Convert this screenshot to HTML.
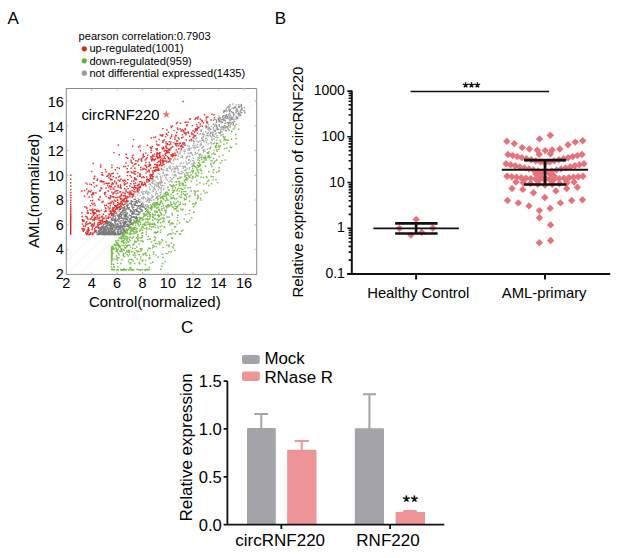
<!DOCTYPE html>
<html><head><meta charset="utf-8"><style>
html,body{margin:0;padding:0;background:#fff;width:633px;height:558px;overflow:hidden;position:relative}
</style></head><body>
<svg width="633" height="558" viewBox="0 0 633 558" style="position:absolute;left:0;top:0"><g style="font-family:'Liberation Sans',sans-serif" fill="#000"><text x="7.6" y="23.8" font-size="17">A</text><text x="274.8" y="23.8" font-size="17">B</text><text x="181" y="332.7" font-size="17">C</text></g><g style="font-family:'Liberation Sans',sans-serif" font-size="11.1" fill="#000"><text x="78.6" y="39.6">pearson correlation:0.7903</text><text x="89.4" y="52.3">up-regulated(1001)</text><text x="89.4" y="64.5">down-regulated(959)</text><text x="89.4" y="76.8">not differential expressed(1435)</text></g><circle cx="84.3" cy="48.8" r="2.6" fill="#d82a1c"/><circle cx="84.3" cy="60.8" r="2.6" fill="#66b034"/><circle cx="84.3" cy="73.2" r="2.6" fill="#9a9a9a"/><rect x="66.3" y="88.5" width="190.4" height="185.9" fill="none" stroke="#8a8a8a" stroke-width="1"/><line x1="79.0" y1="274.4" x2="256.7" y2="100.9" stroke="#ececec" stroke-width="0.7"/><line x1="66.3" y1="274.4" x2="256.7" y2="88.5" stroke="#ececec" stroke-width="0.7"/><line x1="65.0" y1="263.2" x2="245.3" y2="87.3" stroke="#ececec" stroke-width="0.7"/><path fill="#111" fill-opacity="0.55" d="M136.6 217.1h1.35v1.35h-1.35zM114.8 227.6h1.35v1.35h-1.35zM114.3 229.3h1.35v1.35h-1.35zM139.0 211.4h1.35v1.35h-1.35zM108.4 221.0h1.35v1.35h-1.35zM113.1 226.2h1.35v1.35h-1.35zM117.9 233.4h1.35v1.35h-1.35zM121.0 225.3h1.35v1.35h-1.35zM102.2 233.1h1.35v1.35h-1.35zM113.0 233.6h1.35v1.35h-1.35zM133.0 212.8h1.35v1.35h-1.35zM109.2 233.9h1.35v1.35h-1.35zM136.2 219.5h1.35v1.35h-1.35zM138.5 207.4h1.35v1.35h-1.35zM122.9 224.7h1.35v1.35h-1.35zM117.0 215.1h1.35v1.35h-1.35zM117.2 220.0h1.35v1.35h-1.35zM112.6 219.7h1.35v1.35h-1.35zM111.5 234.0h1.35v1.35h-1.35zM120.4 231.5h1.35v1.35h-1.35zM102.6 233.6h1.35v1.35h-1.35zM109.8 223.4h1.35v1.35h-1.35zM114.0 221.6h1.35v1.35h-1.35zM107.8 222.6h1.35v1.35h-1.35zM104.8 228.2h1.35v1.35h-1.35zM109.5 224.9h1.35v1.35h-1.35zM103.5 227.4h1.35v1.35h-1.35zM112.2 231.0h1.35v1.35h-1.35zM100.1 228.6h1.35v1.35h-1.35zM120.6 213.8h1.35v1.35h-1.35zM123.1 221.8h1.35v1.35h-1.35zM123.8 224.7h1.35v1.35h-1.35zM108.1 233.6h1.35v1.35h-1.35zM120.3 220.0h1.35v1.35h-1.35zM134.4 209.3h1.35v1.35h-1.35zM101.4 233.8h1.35v1.35h-1.35zM100.0 233.5h1.35v1.35h-1.35zM115.9 233.6h1.35v1.35h-1.35zM100.5 233.6h1.35v1.35h-1.35zM117.1 229.6h1.35v1.35h-1.35zM100.7 231.7h1.35v1.35h-1.35zM99.5 233.5h1.35v1.35h-1.35zM112.4 231.4h1.35v1.35h-1.35zM135.9 200.7h1.35v1.35h-1.35zM117.0 231.6h1.35v1.35h-1.35zM114.9 227.0h1.35v1.35h-1.35zM119.2 230.4h1.35v1.35h-1.35zM107.5 222.4h1.35v1.35h-1.35zM123.0 227.6h1.35v1.35h-1.35zM113.8 218.9h1.35v1.35h-1.35zM131.1 201.4h1.35v1.35h-1.35zM142.2 205.1h1.35v1.35h-1.35zM105.9 233.4h1.35v1.35h-1.35zM114.8 233.3h1.35v1.35h-1.35zM130.4 210.2h1.35v1.35h-1.35zM111.8 222.9h1.35v1.35h-1.35zM103.2 233.7h1.35v1.35h-1.35zM128.8 220.5h1.35v1.35h-1.35zM110.3 233.8h1.35v1.35h-1.35zM105.4 230.2h1.35v1.35h-1.35zM125.5 219.0h1.35v1.35h-1.35zM111.5 233.1h1.35v1.35h-1.35zM137.4 205.2h1.35v1.35h-1.35zM109.9 229.2h1.35v1.35h-1.35zM111.4 217.5h1.35v1.35h-1.35zM101.4 227.8h1.35v1.35h-1.35zM105.8 224.7h1.35v1.35h-1.35zM104.2 228.5h1.35v1.35h-1.35zM109.2 233.6h1.35v1.35h-1.35zM122.0 233.5h1.35v1.35h-1.35zM113.9 234.0h1.35v1.35h-1.35zM126.8 212.5h1.35v1.35h-1.35zM114.7 231.9h1.35v1.35h-1.35zM128.8 218.1h1.35v1.35h-1.35zM111.2 231.5h1.35v1.35h-1.35zM141.0 203.5h1.35v1.35h-1.35zM109.3 226.6h1.35v1.35h-1.35zM133.3 210.3h1.35v1.35h-1.35zM102.7 233.8h1.35v1.35h-1.35zM136.2 216.9h1.35v1.35h-1.35zM114.9 233.2h1.35v1.35h-1.35zM107.9 233.5h1.35v1.35h-1.35zM135.9 217.6h1.35v1.35h-1.35zM109.8 231.8h1.35v1.35h-1.35zM136.6 202.1h1.35v1.35h-1.35zM139.7 205.1h1.35v1.35h-1.35zM130.7 200.1h1.35v1.35h-1.35zM107.9 233.5h1.35v1.35h-1.35zM111.3 229.5h1.35v1.35h-1.35zM117.1 222.8h1.35v1.35h-1.35zM128.6 207.1h1.35v1.35h-1.35zM99.9 228.0h1.35v1.35h-1.35zM118.3 220.7h1.35v1.35h-1.35zM108.4 221.4h1.35v1.35h-1.35zM114.2 224.5h1.35v1.35h-1.35zM108.8 229.8h1.35v1.35h-1.35zM134.1 198.9h1.35v1.35h-1.35zM118.6 226.6h1.35v1.35h-1.35zM122.1 232.3h1.35v1.35h-1.35zM104.4 233.3h1.35v1.35h-1.35zM99.4 227.4h1.35v1.35h-1.35zM101.6 233.8h1.35v1.35h-1.35zM100.1 228.6h1.35v1.35h-1.35zM132.7 209.1h1.35v1.35h-1.35zM110.9 225.9h1.35v1.35h-1.35zM120.0 212.7h1.35v1.35h-1.35zM113.3 233.4h1.35v1.35h-1.35zM122.7 225.7h1.35v1.35h-1.35zM123.9 212.0h1.35v1.35h-1.35zM117.2 219.6h1.35v1.35h-1.35zM138.5 211.8h1.35v1.35h-1.35zM108.4 233.8h1.35v1.35h-1.35zM110.2 226.0h1.35v1.35h-1.35zM136.6 202.3h1.35v1.35h-1.35zM129.6 219.5h1.35v1.35h-1.35zM118.7 213.9h1.35v1.35h-1.35zM108.8 233.4h1.35v1.35h-1.35zM117.2 223.9h1.35v1.35h-1.35zM139.4 211.3h1.35v1.35h-1.35zM105.8 233.5h1.35v1.35h-1.35zM132.7 219.4h1.35v1.35h-1.35zM121.3 225.3h1.35v1.35h-1.35zM120.0 214.0h1.35v1.35h-1.35zM106.9 227.0h1.35v1.35h-1.35zM126.6 206.1h1.35v1.35h-1.35zM108.3 233.8h1.35v1.35h-1.35zM107.8 233.3h1.35v1.35h-1.35zM106.8 233.6h1.35v1.35h-1.35zM108.8 233.3h1.35v1.35h-1.35zM124.7 230.8h1.35v1.35h-1.35zM135.2 201.8h1.35v1.35h-1.35zM109.9 233.6h1.35v1.35h-1.35zM114.5 219.9h1.35v1.35h-1.35zM114.1 233.3h1.35v1.35h-1.35zM110.3 228.6h1.35v1.35h-1.35zM133.8 220.6h1.35v1.35h-1.35zM108.3 233.9h1.35v1.35h-1.35zM136.5 214.1h1.35v1.35h-1.35zM111.3 233.6h1.35v1.35h-1.35zM111.1 232.3h1.35v1.35h-1.35zM113.2 233.4h1.35v1.35h-1.35zM129.2 220.8h1.35v1.35h-1.35zM103.0 233.2h1.35v1.35h-1.35zM124.1 222.0h1.35v1.35h-1.35zM111.1 218.1h1.35v1.35h-1.35zM135.7 220.4h1.35v1.35h-1.35zM136.4 221.2h1.35v1.35h-1.35zM109.2 233.7h1.35v1.35h-1.35zM113.0 225.9h1.35v1.35h-1.35zM126.9 204.8h1.35v1.35h-1.35zM109.0 233.7h1.35v1.35h-1.35zM117.0 218.5h1.35v1.35h-1.35zM103.1 229.9h1.35v1.35h-1.35zM118.0 216.9h1.35v1.35h-1.35zM122.4 219.5h1.35v1.35h-1.35zM102.7 232.9h1.35v1.35h-1.35zM106.4 228.6h1.35v1.35h-1.35zM144.6 208.0h1.35v1.35h-1.35zM139.9 205.7h1.35v1.35h-1.35zM132.2 207.5h1.35v1.35h-1.35zM124.2 226.2h1.35v1.35h-1.35zM98.3 233.9h1.35v1.35h-1.35zM127.2 204.4h1.35v1.35h-1.35zM97.9 229.7h1.35v1.35h-1.35zM117.2 231.4h1.35v1.35h-1.35zM132.7 213.4h1.35v1.35h-1.35zM98.3 231.8h1.35v1.35h-1.35zM116.6 214.6h1.35v1.35h-1.35zM137.3 214.2h1.35v1.35h-1.35zM106.4 233.3h1.35v1.35h-1.35zM110.5 233.7h1.35v1.35h-1.35zM101.0 230.9h1.35v1.35h-1.35zM125.7 223.7h1.35v1.35h-1.35zM121.9 210.0h1.35v1.35h-1.35zM117.6 229.0h1.35v1.35h-1.35zM117.1 225.8h1.35v1.35h-1.35zM130.3 219.2h1.35v1.35h-1.35zM106.3 232.3h1.35v1.35h-1.35zM119.9 211.8h1.35v1.35h-1.35zM108.6 234.1h1.35v1.35h-1.35zM123.5 207.3h1.35v1.35h-1.35zM121.7 228.3h1.35v1.35h-1.35zM103.7 233.5h1.35v1.35h-1.35zM140.6 203.9h1.35v1.35h-1.35zM122.3 207.5h1.35v1.35h-1.35zM107.8 230.4h1.35v1.35h-1.35zM139.1 204.9h1.35v1.35h-1.35zM115.3 233.8h1.35v1.35h-1.35zM127.3 216.8h1.35v1.35h-1.35zM121.0 217.0h1.35v1.35h-1.35zM95.2 230.1h1.35v1.35h-1.35zM103.6 227.8h1.35v1.35h-1.35zM108.9 223.6h1.35v1.35h-1.35zM123.9 208.4h1.35v1.35h-1.35zM112.0 228.1h1.35v1.35h-1.35zM127.3 204.4h1.35v1.35h-1.35zM132.1 204.4h1.35v1.35h-1.35zM102.1 231.9h1.35v1.35h-1.35zM103.8 231.1h1.35v1.35h-1.35zM112.6 223.8h1.35v1.35h-1.35zM114.6 232.1h1.35v1.35h-1.35zM138.1 211.8h1.35v1.35h-1.35zM120.6 215.9h1.35v1.35h-1.35zM136.0 200.1h1.35v1.35h-1.35zM111.3 219.7h1.35v1.35h-1.35zM132.9 206.6h1.35v1.35h-1.35zM119.9 222.0h1.35v1.35h-1.35zM135.8 213.4h1.35v1.35h-1.35zM107.6 234.0h1.35v1.35h-1.35zM104.3 232.2h1.35v1.35h-1.35zM98.2 231.2h1.35v1.35h-1.35zM102.7 233.8h1.35v1.35h-1.35zM138.0 213.7h1.35v1.35h-1.35zM130.7 217.0h1.35v1.35h-1.35zM119.6 221.7h1.35v1.35h-1.35zM97.9 230.4h1.35v1.35h-1.35zM100.4 232.9h1.35v1.35h-1.35zM110.1 234.0h1.35v1.35h-1.35zM122.8 230.4h1.35v1.35h-1.35zM100.6 233.5h1.35v1.35h-1.35zM105.4 232.7h1.35v1.35h-1.35zM105.0 233.5h1.35v1.35h-1.35zM105.0 229.0h1.35v1.35h-1.35zM99.5 233.5h1.35v1.35h-1.35zM115.4 220.6h1.35v1.35h-1.35zM115.3 223.6h1.35v1.35h-1.35zM114.2 222.2h1.35v1.35h-1.35zM124.2 210.2h1.35v1.35h-1.35zM133.2 212.1h1.35v1.35h-1.35zM139.6 207.2h1.35v1.35h-1.35zM131.2 204.6h1.35v1.35h-1.35zM110.6 222.2h1.35v1.35h-1.35zM114.2 215.3h1.35v1.35h-1.35zM110.6 233.2h1.35v1.35h-1.35zM108.7 233.5h1.35v1.35h-1.35zM100.8 227.6h1.35v1.35h-1.35zM124.2 207.5h1.35v1.35h-1.35zM103.1 227.0h1.35v1.35h-1.35zM109.8 234.0h1.35v1.35h-1.35zM136.0 210.7h1.35v1.35h-1.35zM120.0 228.4h1.35v1.35h-1.35zM106.2 234.0h1.35v1.35h-1.35zM105.6 233.3h1.35v1.35h-1.35zM100.3 227.8h1.35v1.35h-1.35zM108.8 233.2h1.35v1.35h-1.35zM130.7 203.5h1.35v1.35h-1.35zM98.1 230.7h1.35v1.35h-1.35zM135.7 220.0h1.35v1.35h-1.35zM110.1 223.9h1.35v1.35h-1.35zM123.8 231.2h1.35v1.35h-1.35zM131.2 205.6h1.35v1.35h-1.35zM128.8 226.9h1.35v1.35h-1.35zM113.7 230.1h1.35v1.35h-1.35zM117.5 231.5h1.35v1.35h-1.35zM120.3 225.4h1.35v1.35h-1.35zM130.6 200.7h1.35v1.35h-1.35zM118.4 228.6h1.35v1.35h-1.35zM117.4 223.8h1.35v1.35h-1.35zM111.1 233.7h1.35v1.35h-1.35zM103.3 229.8h1.35v1.35h-1.35zM107.1 225.1h1.35v1.35h-1.35zM104.6 231.6h1.35v1.35h-1.35zM101.5 231.3h1.35v1.35h-1.35zM129.5 208.9h1.35v1.35h-1.35zM109.3 233.6h1.35v1.35h-1.35zM109.7 225.5h1.35v1.35h-1.35zM120.5 223.3h1.35v1.35h-1.35zM126.0 219.0h1.35v1.35h-1.35zM133.5 216.7h1.35v1.35h-1.35zM120.8 226.8h1.35v1.35h-1.35zM115.7 211.9h1.35v1.35h-1.35zM105.7 229.9h1.35v1.35h-1.35zM103.3 233.7h1.35v1.35h-1.35zM114.2 218.3h1.35v1.35h-1.35zM111.4 224.1h1.35v1.35h-1.35zM122.4 207.0h1.35v1.35h-1.35zM120.9 214.7h1.35v1.35h-1.35zM119.1 226.3h1.35v1.35h-1.35zM100.1 229.6h1.35v1.35h-1.35zM124.7 223.2h1.35v1.35h-1.35zM126.8 223.7h1.35v1.35h-1.35zM106.2 233.8h1.35v1.35h-1.35zM123.9 206.0h1.35v1.35h-1.35zM96.8 233.3h1.35v1.35h-1.35zM115.9 228.3h1.35v1.35h-1.35zM108.0 233.7h1.35v1.35h-1.35zM110.4 233.6h1.35v1.35h-1.35zM141.3 206.2h1.35v1.35h-1.35zM107.7 228.6h1.35v1.35h-1.35zM111.2 230.6h1.35v1.35h-1.35zM134.1 204.1h1.35v1.35h-1.35zM115.0 217.2h1.35v1.35h-1.35zM110.6 227.4h1.35v1.35h-1.35zM118.3 214.4h1.35v1.35h-1.35zM118.6 228.4h1.35v1.35h-1.35zM123.9 215.8h1.35v1.35h-1.35zM105.2 233.7h1.35v1.35h-1.35zM105.4 226.3h1.35v1.35h-1.35zM134.5 213.5h1.35v1.35h-1.35zM109.2 234.0h1.35v1.35h-1.35zM104.6 227.7h1.35v1.35h-1.35zM137.8 205.7h1.35v1.35h-1.35zM114.2 224.7h1.35v1.35h-1.35zM117.0 224.4h1.35v1.35h-1.35zM102.9 233.8h1.35v1.35h-1.35zM97.2 233.6h1.35v1.35h-1.35zM114.3 233.6h1.35v1.35h-1.35zM138.4 213.5h1.35v1.35h-1.35zM125.2 220.8h1.35v1.35h-1.35zM139.9 208.8h1.35v1.35h-1.35zM105.1 226.3h1.35v1.35h-1.35zM116.4 219.8h1.35v1.35h-1.35zM144.8 208.7h1.35v1.35h-1.35zM108.1 230.6h1.35v1.35h-1.35zM117.6 231.6h1.35v1.35h-1.35zM103.9 226.3h1.35v1.35h-1.35zM134.5 203.2h1.35v1.35h-1.35zM115.1 232.9h1.35v1.35h-1.35zM104.9 233.9h1.35v1.35h-1.35zM106.1 222.6h1.35v1.35h-1.35zM127.5 224.4h1.35v1.35h-1.35zM103.6 231.1h1.35v1.35h-1.35zM101.2 229.6h1.35v1.35h-1.35zM129.5 219.4h1.35v1.35h-1.35zM110.0 233.7h1.35v1.35h-1.35zM119.7 223.1h1.35v1.35h-1.35zM127.0 224.0h1.35v1.35h-1.35zM135.9 204.9h1.35v1.35h-1.35zM108.2 224.6h1.35v1.35h-1.35zM134.0 204.7h1.35v1.35h-1.35zM119.7 233.6h1.35v1.35h-1.35zM142.2 206.3h1.35v1.35h-1.35zM134.7 198.8h1.35v1.35h-1.35zM126.2 205.4h1.35v1.35h-1.35zM127.3 224.8h1.35v1.35h-1.35zM105.5 233.5h1.35v1.35h-1.35zM98.0 233.2h1.35v1.35h-1.35zM129.4 222.5h1.35v1.35h-1.35zM110.6 218.8h1.35v1.35h-1.35zM120.8 229.7h1.35v1.35h-1.35zM105.5 233.6h1.35v1.35h-1.35zM133.3 216.4h1.35v1.35h-1.35zM102.3 226.0h1.35v1.35h-1.35zM110.7 233.9h1.35v1.35h-1.35zM100.1 233.7h1.35v1.35h-1.35zM103.6 232.4h1.35v1.35h-1.35zM132.2 211.8h1.35v1.35h-1.35zM116.5 233.7h1.35v1.35h-1.35zM126.3 208.5h1.35v1.35h-1.35zM126.5 207.5h1.35v1.35h-1.35zM135.6 209.2h1.35v1.35h-1.35zM117.8 234.1h1.35v1.35h-1.35zM113.8 233.3h1.35v1.35h-1.35zM135.5 218.0h1.35v1.35h-1.35zM113.6 224.7h1.35v1.35h-1.35zM125.4 208.7h1.35v1.35h-1.35zM107.2 233.1h1.35v1.35h-1.35zM123.5 214.6h1.35v1.35h-1.35zM123.5 220.9h1.35v1.35h-1.35zM116.9 231.7h1.35v1.35h-1.35zM138.6 205.1h1.35v1.35h-1.35zM117.2 224.6h1.35v1.35h-1.35zM97.5 231.5h1.35v1.35h-1.35zM115.2 223.6h1.35v1.35h-1.35zM107.3 231.7h1.35v1.35h-1.35zM116.0 233.7h1.35v1.35h-1.35zM102.3 230.6h1.35v1.35h-1.35zM99.3 233.2h1.35v1.35h-1.35zM126.6 229.9h1.35v1.35h-1.35zM105.0 225.7h1.35v1.35h-1.35zM118.4 217.6h1.35v1.35h-1.35zM123.7 223.3h1.35v1.35h-1.35zM112.4 233.2h1.35v1.35h-1.35zM129.9 209.7h1.35v1.35h-1.35zM124.4 213.7h1.35v1.35h-1.35zM129.2 222.2h1.35v1.35h-1.35zM118.7 218.4h1.35v1.35h-1.35zM114.8 218.4h1.35v1.35h-1.35zM107.0 233.2h1.35v1.35h-1.35zM107.6 229.1h1.35v1.35h-1.35zM121.1 217.6h1.35v1.35h-1.35zM137.2 210.4h1.35v1.35h-1.35zM117.3 232.4h1.35v1.35h-1.35zM98.2 232.5h1.35v1.35h-1.35zM130.1 218.2h1.35v1.35h-1.35zM100.3 228.8h1.35v1.35h-1.35zM136.1 208.6h1.35v1.35h-1.35zM98.8 233.6h1.35v1.35h-1.35zM106.9 231.3h1.35v1.35h-1.35zM120.5 207.8h1.35v1.35h-1.35zM132.3 222.6h1.35v1.35h-1.35zM106.0 221.7h1.35v1.35h-1.35zM126.8 218.5h1.35v1.35h-1.35zM99.2 229.3h1.35v1.35h-1.35zM114.2 229.1h1.35v1.35h-1.35zM121.0 211.4h1.35v1.35h-1.35zM128.1 208.5h1.35v1.35h-1.35zM99.5 228.8h1.35v1.35h-1.35zM108.7 228.0h1.35v1.35h-1.35zM117.1 218.5h1.35v1.35h-1.35zM106.0 231.9h1.35v1.35h-1.35zM131.6 210.9h1.35v1.35h-1.35zM120.8 232.1h1.35v1.35h-1.35zM113.8 233.4h1.35v1.35h-1.35zM103.9 232.8h1.35v1.35h-1.35zM128.7 202.7h1.35v1.35h-1.35zM116.6 225.5h1.35v1.35h-1.35zM101.6 227.6h1.35v1.35h-1.35zM117.4 231.1h1.35v1.35h-1.35zM129.9 221.8h1.35v1.35h-1.35zM122.0 221.7h1.35v1.35h-1.35zM106.0 225.4h1.35v1.35h-1.35zM125.7 214.5h1.35v1.35h-1.35zM122.5 219.6h1.35v1.35h-1.35zM113.3 229.8h1.35v1.35h-1.35zM119.8 227.0h1.35v1.35h-1.35zM100.9 232.6h1.35v1.35h-1.35zM117.6 233.3h1.35v1.35h-1.35zM115.7 234.0h1.35v1.35h-1.35zM125.9 221.6h1.35v1.35h-1.35zM117.8 233.7h1.35v1.35h-1.35zM122.6 223.1h1.35v1.35h-1.35zM104.1 234.0h1.35v1.35h-1.35zM115.3 233.3h1.35v1.35h-1.35zM119.4 232.8h1.35v1.35h-1.35zM123.5 225.2h1.35v1.35h-1.35zM119.0 215.2h1.35v1.35h-1.35zM98.0 227.7h1.35v1.35h-1.35zM134.5 217.8h1.35v1.35h-1.35zM98.6 230.5h1.35v1.35h-1.35zM105.4 232.9h1.35v1.35h-1.35zM99.3 231.3h1.35v1.35h-1.35zM115.0 233.6h1.35v1.35h-1.35zM114.5 212.9h1.35v1.35h-1.35zM126.7 225.6h1.35v1.35h-1.35zM109.6 232.0h1.35v1.35h-1.35zM102.3 233.7h1.35v1.35h-1.35zM118.0 220.6h1.35v1.35h-1.35zM132.0 212.4h1.35v1.35h-1.35zM131.9 207.5h1.35v1.35h-1.35zM113.7 231.8h1.35v1.35h-1.35zM100.7 233.5h1.35v1.35h-1.35zM122.3 211.3h1.35v1.35h-1.35zM104.3 229.1h1.35v1.35h-1.35zM104.8 225.6h1.35v1.35h-1.35zM124.5 220.5h1.35v1.35h-1.35zM135.6 216.0h1.35v1.35h-1.35zM101.9 233.3h1.35v1.35h-1.35zM127.4 220.6h1.35v1.35h-1.35zM103.9 230.2h1.35v1.35h-1.35zM120.1 233.7h1.35v1.35h-1.35zM97.9 231.9h1.35v1.35h-1.35zM123.5 218.1h1.35v1.35h-1.35zM133.3 216.1h1.35v1.35h-1.35zM140.6 204.3h1.35v1.35h-1.35zM121.6 226.7h1.35v1.35h-1.35zM109.9 232.1h1.35v1.35h-1.35zM127.8 200.5h1.35v1.35h-1.35zM124.9 215.8h1.35v1.35h-1.35zM138.1 205.1h1.35v1.35h-1.35zM103.0 233.4h1.35v1.35h-1.35zM106.4 224.7h1.35v1.35h-1.35zM119.3 209.0h1.35v1.35h-1.35zM96.5 233.9h1.35v1.35h-1.35zM103.7 226.4h1.35v1.35h-1.35zM108.8 222.0h1.35v1.35h-1.35zM118.4 210.6h1.35v1.35h-1.35zM124.7 218.1h1.35v1.35h-1.35zM114.8 219.9h1.35v1.35h-1.35zM120.2 230.7h1.35v1.35h-1.35zM105.1 233.5h1.35v1.35h-1.35zM126.9 206.8h1.35v1.35h-1.35zM105.1 226.7h1.35v1.35h-1.35zM128.5 225.3h1.35v1.35h-1.35zM119.4 225.5h1.35v1.35h-1.35zM123.2 209.8h1.35v1.35h-1.35zM126.3 202.4h1.35v1.35h-1.35zM126.3 212.5h1.35v1.35h-1.35zM125.2 210.5h1.35v1.35h-1.35zM111.6 233.4h1.35v1.35h-1.35zM102.7 233.4h1.35v1.35h-1.35zM127.4 223.5h1.35v1.35h-1.35zM125.1 214.4h1.35v1.35h-1.35zM107.8 228.7h1.35v1.35h-1.35zM112.1 231.6h1.35v1.35h-1.35zM136.7 213.7h1.35v1.35h-1.35zM102.4 231.8h1.35v1.35h-1.35zM121.8 206.7h1.35v1.35h-1.35zM124.0 221.6h1.35v1.35h-1.35zM108.2 227.8h1.35v1.35h-1.35zM98.5 231.1h1.35v1.35h-1.35zM127.8 207.4h1.35v1.35h-1.35zM106.2 221.2h1.35v1.35h-1.35zM126.3 213.4h1.35v1.35h-1.35zM130.0 215.1h1.35v1.35h-1.35zM105.7 229.7h1.35v1.35h-1.35zM112.5 232.3h1.35v1.35h-1.35zM117.7 231.9h1.35v1.35h-1.35zM118.5 227.9h1.35v1.35h-1.35zM115.1 217.5h1.35v1.35h-1.35zM111.0 233.1h1.35v1.35h-1.35zM135.2 204.7h1.35v1.35h-1.35zM102.2 233.6h1.35v1.35h-1.35zM129.4 223.9h1.35v1.35h-1.35zM112.1 233.5h1.35v1.35h-1.35zM110.2 225.5h1.35v1.35h-1.35zM109.5 227.2h1.35v1.35h-1.35zM111.7 227.0h1.35v1.35h-1.35zM104.5 223.1h1.35v1.35h-1.35zM119.8 216.1h1.35v1.35h-1.35zM135.2 209.1h1.35v1.35h-1.35zM100.9 232.6h1.35v1.35h-1.35zM141.1 208.7h1.35v1.35h-1.35zM124.9 220.7h1.35v1.35h-1.35zM131.6 213.7h1.35v1.35h-1.35zM119.0 234.0h1.35v1.35h-1.35zM105.2 234.0h1.35v1.35h-1.35zM118.1 226.1h1.35v1.35h-1.35zM116.9 226.8h1.35v1.35h-1.35zM110.4 225.1h1.35v1.35h-1.35zM102.1 225.4h1.35v1.35h-1.35zM118.7 213.2h1.35v1.35h-1.35zM109.1 233.4h1.35v1.35h-1.35zM97.9 233.2h1.35v1.35h-1.35zM100.6 233.3h1.35v1.35h-1.35zM103.8 234.0h1.35v1.35h-1.35zM132.2 200.8h1.35v1.35h-1.35zM101.5 233.8h1.35v1.35h-1.35zM110.3 228.8h1.35v1.35h-1.35zM105.1 227.3h1.35v1.35h-1.35zM129.8 220.5h1.35v1.35h-1.35zM114.5 215.2h1.35v1.35h-1.35zM126.7 218.8h1.35v1.35h-1.35zM114.2 220.2h1.35v1.35h-1.35zM118.7 234.0h1.35v1.35h-1.35zM100.8 226.8h1.35v1.35h-1.35zM118.4 215.9h1.35v1.35h-1.35zM119.6 225.1h1.35v1.35h-1.35zM116.1 212.9h1.35v1.35h-1.35zM141.8 210.1h1.35v1.35h-1.35zM100.6 232.5h1.35v1.35h-1.35zM122.4 217.7h1.35v1.35h-1.35zM133.3 203.2h1.35v1.35h-1.35zM137.7 200.5h1.35v1.35h-1.35zM111.1 222.8h1.35v1.35h-1.35zM119.7 232.5h1.35v1.35h-1.35zM112.6 225.3h1.35v1.35h-1.35zM110.1 221.2h1.35v1.35h-1.35zM99.3 226.7h1.35v1.35h-1.35zM136.6 217.3h1.35v1.35h-1.35zM105.1 232.5h1.35v1.35h-1.35zM112.5 217.1h1.35v1.35h-1.35zM120.5 231.2h1.35v1.35h-1.35zM122.2 233.0h1.35v1.35h-1.35zM136.7 207.2h1.35v1.35h-1.35zM123.5 216.1h1.35v1.35h-1.35zM112.3 231.0h1.35v1.35h-1.35zM123.2 224.9h1.35v1.35h-1.35zM126.6 204.9h1.35v1.35h-1.35zM99.6 233.5h1.35v1.35h-1.35zM134.3 201.0h1.35v1.35h-1.35zM131.2 206.1h1.35v1.35h-1.35zM130.7 223.6h1.35v1.35h-1.35zM131.0 216.3h1.35v1.35h-1.35zM109.5 233.8h1.35v1.35h-1.35zM134.0 210.9h1.35v1.35h-1.35zM120.8 226.2h1.35v1.35h-1.35zM115.6 223.2h1.35v1.35h-1.35zM110.8 214.9h1.35v1.35h-1.35zM130.2 217.5h1.35v1.35h-1.35zM110.5 233.9h1.35v1.35h-1.35zM105.2 233.5h1.35v1.35h-1.35zM103.2 233.6h1.35v1.35h-1.35zM122.1 213.4h1.35v1.35h-1.35zM125.1 216.1h1.35v1.35h-1.35zM132.0 216.3h1.35v1.35h-1.35zM122.3 208.4h1.35v1.35h-1.35zM125.5 221.9h1.35v1.35h-1.35zM102.4 230.8h1.35v1.35h-1.35zM110.5 228.5h1.35v1.35h-1.35zM105.0 233.1h1.35v1.35h-1.35zM138.5 208.0h1.35v1.35h-1.35zM103.9 230.4h1.35v1.35h-1.35zM114.7 232.0h1.35v1.35h-1.35zM110.5 233.6h1.35v1.35h-1.35zM110.2 233.5h1.35v1.35h-1.35zM119.3 222.2h1.35v1.35h-1.35zM127.3 225.9h1.35v1.35h-1.35zM132.5 213.5h1.35v1.35h-1.35zM103.5 227.1h1.35v1.35h-1.35zM124.6 215.0h1.35v1.35h-1.35zM113.2 219.3h1.35v1.35h-1.35zM115.8 226.6h1.35v1.35h-1.35zM118.3 215.2h1.35v1.35h-1.35zM110.8 234.0h1.35v1.35h-1.35zM114.0 233.6h1.35v1.35h-1.35zM105.0 233.2h1.35v1.35h-1.35zM99.7 233.5h1.35v1.35h-1.35zM126.6 225.4h1.35v1.35h-1.35zM100.8 230.7h1.35v1.35h-1.35zM134.7 216.7h1.35v1.35h-1.35zM123.0 224.3h1.35v1.35h-1.35zM107.2 224.4h1.35v1.35h-1.35zM130.7 203.0h1.35v1.35h-1.35zM114.7 219.5h1.35v1.35h-1.35zM121.2 211.3h1.35v1.35h-1.35zM103.4 227.7h1.35v1.35h-1.35zM138.7 201.5h1.35v1.35h-1.35zM129.8 218.7h1.35v1.35h-1.35zM114.9 234.1h1.35v1.35h-1.35zM108.3 233.1h1.35v1.35h-1.35zM126.3 215.4h1.35v1.35h-1.35zM121.4 231.7h1.35v1.35h-1.35zM125.5 217.6h1.35v1.35h-1.35zM103.4 233.7h1.35v1.35h-1.35zM105.1 223.4h1.35v1.35h-1.35zM106.2 231.2h1.35v1.35h-1.35zM107.5 229.4h1.35v1.35h-1.35zM105.0 233.2h1.35v1.35h-1.35zM99.6 232.1h1.35v1.35h-1.35zM118.9 232.8h1.35v1.35h-1.35zM107.0 221.3h1.35v1.35h-1.35zM110.0 233.7h1.35v1.35h-1.35zM124.8 212.1h1.35v1.35h-1.35zM103.7 234.1h1.35v1.35h-1.35zM140.9 210.5h1.35v1.35h-1.35zM129.3 218.0h1.35v1.35h-1.35zM120.5 220.2h1.35v1.35h-1.35zM102.2 226.6h1.35v1.35h-1.35zM107.5 227.6h1.35v1.35h-1.35zM111.2 233.6h1.35v1.35h-1.35zM129.8 210.8h1.35v1.35h-1.35zM115.2 225.2h1.35v1.35h-1.35zM131.1 222.3h1.35v1.35h-1.35zM109.2 234.0h1.35v1.35h-1.35zM123.3 228.0h1.35v1.35h-1.35zM111.1 233.3h1.35v1.35h-1.35zM130.4 219.7h1.35v1.35h-1.35zM113.4 234.0h1.35v1.35h-1.35zM118.4 225.6h1.35v1.35h-1.35zM111.5 226.9h1.35v1.35h-1.35zM130.3 201.5h1.35v1.35h-1.35zM113.8 234.0h1.35v1.35h-1.35zM113.0 232.2h1.35v1.35h-1.35zM108.7 231.6h1.35v1.35h-1.35zM122.4 212.9h1.35v1.35h-1.35zM107.4 231.7h1.35v1.35h-1.35zM100.6 228.8h1.35v1.35h-1.35zM120.5 206.1h1.35v1.35h-1.35zM117.6 232.7h1.35v1.35h-1.35zM123.9 230.4h1.35v1.35h-1.35zM102.6 228.7h1.35v1.35h-1.35zM143.7 206.5h1.35v1.35h-1.35zM100.9 225.8h1.35v1.35h-1.35zM136.3 210.1h1.35v1.35h-1.35zM127.3 203.9h1.35v1.35h-1.35zM95.7 231.8h1.35v1.35h-1.35zM117.7 233.3h1.35v1.35h-1.35zM114.1 230.3h1.35v1.35h-1.35zM121.0 217.2h1.35v1.35h-1.35zM113.3 234.1h1.35v1.35h-1.35zM102.2 233.9h1.35v1.35h-1.35zM118.1 226.7h1.35v1.35h-1.35zM143.5 206.3h1.35v1.35h-1.35zM137.4 211.0h1.35v1.35h-1.35zM114.8 221.4h1.35v1.35h-1.35zM124.2 229.4h1.35v1.35h-1.35zM112.2 233.2h1.35v1.35h-1.35zM119.5 227.1h1.35v1.35h-1.35zM128.1 220.9h1.35v1.35h-1.35zM129.7 209.6h1.35v1.35h-1.35zM103.0 227.1h1.35v1.35h-1.35zM111.0 233.5h1.35v1.35h-1.35zM131.4 211.1h1.35v1.35h-1.35zM131.1 212.7h1.35v1.35h-1.35zM108.9 231.6h1.35v1.35h-1.35zM125.3 202.2h1.35v1.35h-1.35zM112.4 229.0h1.35v1.35h-1.35zM123.8 214.8h1.35v1.35h-1.35zM115.4 219.7h1.35v1.35h-1.35zM111.9 219.3h1.35v1.35h-1.35zM115.9 225.5h1.35v1.35h-1.35zM108.1 227.7h1.35v1.35h-1.35zM108.5 230.0h1.35v1.35h-1.35zM125.8 215.4h1.35v1.35h-1.35zM114.1 233.9h1.35v1.35h-1.35zM112.3 223.7h1.35v1.35h-1.35zM124.5 209.9h1.35v1.35h-1.35zM106.6 220.1h1.35v1.35h-1.35zM120.1 212.7h1.35v1.35h-1.35zM122.8 229.1h1.35v1.35h-1.35zM113.6 225.4h1.35v1.35h-1.35zM129.6 220.9h1.35v1.35h-1.35zM127.4 216.2h1.35v1.35h-1.35zM109.8 233.5h1.35v1.35h-1.35zM129.6 215.2h1.35v1.35h-1.35zM135.0 201.5h1.35v1.35h-1.35zM103.0 234.0h1.35v1.35h-1.35zM119.6 233.7h1.35v1.35h-1.35zM127.3 220.5h1.35v1.35h-1.35zM129.7 203.0h1.35v1.35h-1.35zM145.1 210.9h1.35v1.35h-1.35zM109.5 227.7h1.35v1.35h-1.35zM112.2 214.6h1.35v1.35h-1.35zM133.5 198.6h1.35v1.35h-1.35zM116.4 233.7h1.35v1.35h-1.35zM112.6 216.1h1.35v1.35h-1.35zM113.3 215.4h1.35v1.35h-1.35zM122.2 225.6h1.35v1.35h-1.35zM124.9 215.1h1.35v1.35h-1.35zM111.1 225.1h1.35v1.35h-1.35zM119.4 217.9h1.35v1.35h-1.35zM98.5 233.8h1.35v1.35h-1.35zM113.9 232.9h1.35v1.35h-1.35zM108.1 230.5h1.35v1.35h-1.35zM98.5 232.1h1.35v1.35h-1.35zM126.0 204.8h1.35v1.35h-1.35zM116.6 231.0h1.35v1.35h-1.35zM98.1 231.8h1.35v1.35h-1.35zM125.0 232.0h1.35v1.35h-1.35zM110.4 231.0h1.35v1.35h-1.35zM125.1 225.6h1.35v1.35h-1.35zM105.5 225.5h1.35v1.35h-1.35zM125.8 228.5h1.35v1.35h-1.35zM114.7 233.3h1.35v1.35h-1.35zM104.7 229.5h1.35v1.35h-1.35zM99.4 232.3h1.35v1.35h-1.35zM109.2 229.8h1.35v1.35h-1.35zM130.4 215.1h1.35v1.35h-1.35zM110.9 233.9h1.35v1.35h-1.35zM99.8 232.2h1.35v1.35h-1.35zM136.8 219.3h1.35v1.35h-1.35zM101.0 232.9h1.35v1.35h-1.35zM105.1 226.3h1.35v1.35h-1.35zM110.1 222.8h1.35v1.35h-1.35zM102.7 224.1h1.35v1.35h-1.35zM108.9 231.3h1.35v1.35h-1.35zM104.9 233.7h1.35v1.35h-1.35zM107.2 223.3h1.35v1.35h-1.35zM128.6 214.4h1.35v1.35h-1.35zM103.1 223.5h1.35v1.35h-1.35zM113.4 226.9h1.35v1.35h-1.35zM108.7 233.1h1.35v1.35h-1.35zM125.0 214.1h1.35v1.35h-1.35zM111.3 229.5h1.35v1.35h-1.35zM117.3 215.4h1.35v1.35h-1.35zM139.3 212.0h1.35v1.35h-1.35z"/><path fill="#111" fill-opacity="0.36" d="M156.6 176.2h1.3v1.3h-1.3zM178.2 172.2h1.3v1.3h-1.3zM201.7 155.2h1.3v1.3h-1.3zM156.8 197.4h1.3v1.3h-1.3zM160.0 193.8h1.3v1.3h-1.3zM156.4 175.5h1.3v1.3h-1.3zM136.9 194.3h1.3v1.3h-1.3zM154.5 180.2h1.3v1.3h-1.3zM177.3 168.1h1.3v1.3h-1.3zM196.8 146.8h1.3v1.3h-1.3zM198.9 153.8h1.3v1.3h-1.3zM190.8 140.4h1.3v1.3h-1.3zM192.5 162.9h1.3v1.3h-1.3zM206.9 134.6h1.3v1.3h-1.3zM148.8 188.4h1.3v1.3h-1.3zM199.0 154.9h1.3v1.3h-1.3zM206.9 139.2h1.3v1.3h-1.3zM173.1 160.2h1.3v1.3h-1.3zM188.5 149.0h1.3v1.3h-1.3zM207.7 135.3h1.3v1.3h-1.3zM195.8 137.4h1.3v1.3h-1.3zM180.3 156.8h1.3v1.3h-1.3zM140.2 201.2h1.3v1.3h-1.3zM157.9 189.3h1.3v1.3h-1.3zM173.1 176.8h1.3v1.3h-1.3zM182.8 162.7h1.3v1.3h-1.3zM166.2 168.0h1.3v1.3h-1.3zM180.6 162.5h1.3v1.3h-1.3zM147.4 193.6h1.3v1.3h-1.3zM148.2 183.4h1.3v1.3h-1.3zM194.0 147.8h1.3v1.3h-1.3zM138.5 199.1h1.3v1.3h-1.3zM165.6 174.0h1.3v1.3h-1.3zM154.9 194.1h1.3v1.3h-1.3zM209.8 142.2h1.3v1.3h-1.3zM174.5 170.9h1.3v1.3h-1.3zM174.0 174.9h1.3v1.3h-1.3zM175.6 165.4h1.3v1.3h-1.3zM179.3 177.4h1.3v1.3h-1.3zM146.5 204.1h1.3v1.3h-1.3zM208.6 147.9h1.3v1.3h-1.3zM206.0 137.5h1.3v1.3h-1.3zM145.4 184.9h1.3v1.3h-1.3zM185.4 160.8h1.3v1.3h-1.3zM203.5 148.7h1.3v1.3h-1.3zM160.6 182.4h1.3v1.3h-1.3zM152.0 177.3h1.3v1.3h-1.3zM174.8 174.1h1.3v1.3h-1.3zM151.8 197.0h1.3v1.3h-1.3zM197.3 141.1h1.3v1.3h-1.3zM193.2 140.9h1.3v1.3h-1.3zM193.6 137.6h1.3v1.3h-1.3zM148.9 198.3h1.3v1.3h-1.3zM160.7 176.9h1.3v1.3h-1.3zM202.8 150.6h1.3v1.3h-1.3zM176.1 167.6h1.3v1.3h-1.3zM145.9 185.3h1.3v1.3h-1.3zM202.9 139.8h1.3v1.3h-1.3zM141.8 192.9h1.3v1.3h-1.3zM192.7 147.0h1.3v1.3h-1.3zM177.2 165.8h1.3v1.3h-1.3zM152.4 190.2h1.3v1.3h-1.3zM156.2 196.1h1.3v1.3h-1.3zM152.7 187.3h1.3v1.3h-1.3zM154.0 183.4h1.3v1.3h-1.3zM145.0 198.1h1.3v1.3h-1.3zM151.1 200.0h1.3v1.3h-1.3zM157.2 182.6h1.3v1.3h-1.3zM154.0 183.5h1.3v1.3h-1.3zM190.4 151.8h1.3v1.3h-1.3zM150.5 197.5h1.3v1.3h-1.3zM197.7 158.4h1.3v1.3h-1.3zM162.1 175.2h1.3v1.3h-1.3zM191.6 153.8h1.3v1.3h-1.3zM151.6 180.3h1.3v1.3h-1.3zM167.6 189.2h1.3v1.3h-1.3zM158.0 187.2h1.3v1.3h-1.3zM152.1 181.2h1.3v1.3h-1.3zM161.7 181.6h1.3v1.3h-1.3zM146.8 193.0h1.3v1.3h-1.3zM138.2 191.7h1.3v1.3h-1.3zM197.1 159.5h1.3v1.3h-1.3zM198.2 133.9h1.3v1.3h-1.3zM146.0 189.9h1.3v1.3h-1.3zM192.1 154.5h1.3v1.3h-1.3zM206.7 148.8h1.3v1.3h-1.3zM192.3 140.0h1.3v1.3h-1.3zM167.2 170.3h1.3v1.3h-1.3zM186.4 156.4h1.3v1.3h-1.3zM151.2 182.1h1.3v1.3h-1.3zM142.5 202.9h1.3v1.3h-1.3zM149.3 192.5h1.3v1.3h-1.3zM194.2 153.7h1.3v1.3h-1.3zM195.3 153.1h1.3v1.3h-1.3zM176.6 158.5h1.3v1.3h-1.3zM190.0 160.5h1.3v1.3h-1.3zM193.1 142.8h1.3v1.3h-1.3zM167.5 186.5h1.3v1.3h-1.3zM196.9 143.7h1.3v1.3h-1.3zM157.0 195.5h1.3v1.3h-1.3zM151.1 178.8h1.3v1.3h-1.3zM145.0 185.7h1.3v1.3h-1.3zM158.0 185.6h1.3v1.3h-1.3zM199.5 140.4h1.3v1.3h-1.3zM177.7 155.6h1.3v1.3h-1.3zM180.9 170.7h1.3v1.3h-1.3zM203.6 141.3h1.3v1.3h-1.3zM140.9 198.0h1.3v1.3h-1.3zM202.2 138.8h1.3v1.3h-1.3zM195.9 137.2h1.3v1.3h-1.3zM163.9 174.2h1.3v1.3h-1.3zM156.9 182.3h1.3v1.3h-1.3zM200.6 130.6h1.3v1.3h-1.3zM142.1 201.5h1.3v1.3h-1.3zM204.4 150.6h1.3v1.3h-1.3zM194.4 135.7h1.3v1.3h-1.3zM157.9 184.4h1.3v1.3h-1.3zM139.2 199.2h1.3v1.3h-1.3zM203.5 133.6h1.3v1.3h-1.3zM160.2 188.5h1.3v1.3h-1.3zM163.4 185.0h1.3v1.3h-1.3zM202.9 146.0h1.3v1.3h-1.3zM200.0 130.2h1.3v1.3h-1.3zM201.0 129.1h1.3v1.3h-1.3zM151.1 199.7h1.3v1.3h-1.3zM200.4 153.9h1.3v1.3h-1.3zM206.0 134.7h1.3v1.3h-1.3zM144.8 204.6h1.3v1.3h-1.3zM202.4 132.2h1.3v1.3h-1.3zM172.2 168.2h1.3v1.3h-1.3zM167.1 174.4h1.3v1.3h-1.3zM202.8 136.1h1.3v1.3h-1.3zM184.0 151.0h1.3v1.3h-1.3zM203.1 134.4h1.3v1.3h-1.3zM149.6 180.2h1.3v1.3h-1.3zM173.5 175.0h1.3v1.3h-1.3zM179.4 172.9h1.3v1.3h-1.3zM155.6 197.8h1.3v1.3h-1.3zM205.1 140.0h1.3v1.3h-1.3zM158.8 173.4h1.3v1.3h-1.3zM142.8 198.2h1.3v1.3h-1.3zM187.0 155.8h1.3v1.3h-1.3zM147.8 205.1h1.3v1.3h-1.3zM193.5 161.6h1.3v1.3h-1.3zM173.9 167.5h1.3v1.3h-1.3zM171.2 181.2h1.3v1.3h-1.3zM190.8 152.7h1.3v1.3h-1.3zM164.1 166.5h1.3v1.3h-1.3zM162.1 169.2h1.3v1.3h-1.3zM139.4 201.2h1.3v1.3h-1.3zM201.5 133.6h1.3v1.3h-1.3zM193.9 140.6h1.3v1.3h-1.3zM157.2 185.7h1.3v1.3h-1.3zM144.9 191.4h1.3v1.3h-1.3zM148.9 199.8h1.3v1.3h-1.3zM200.2 144.0h1.3v1.3h-1.3zM189.1 147.9h1.3v1.3h-1.3zM142.1 197.3h1.3v1.3h-1.3zM158.3 185.7h1.3v1.3h-1.3zM145.5 191.0h1.3v1.3h-1.3zM185.7 162.5h1.3v1.3h-1.3zM197.4 141.1h1.3v1.3h-1.3zM207.9 143.2h1.3v1.3h-1.3zM202.8 151.3h1.3v1.3h-1.3zM165.4 177.1h1.3v1.3h-1.3zM189.1 167.0h1.3v1.3h-1.3zM153.2 199.3h1.3v1.3h-1.3zM174.4 173.7h1.3v1.3h-1.3zM136.4 192.0h1.3v1.3h-1.3zM177.6 153.3h1.3v1.3h-1.3zM201.7 138.5h1.3v1.3h-1.3zM188.7 145.7h1.3v1.3h-1.3zM169.5 165.3h1.3v1.3h-1.3zM184.4 149.3h1.3v1.3h-1.3zM199.3 140.0h1.3v1.3h-1.3zM214.0 142.3h1.3v1.3h-1.3zM152.4 191.0h1.3v1.3h-1.3zM153.1 189.2h1.3v1.3h-1.3zM179.6 165.8h1.3v1.3h-1.3zM142.7 203.1h1.3v1.3h-1.3zM191.9 160.0h1.3v1.3h-1.3zM153.6 186.3h1.3v1.3h-1.3zM192.7 157.7h1.3v1.3h-1.3zM183.3 150.6h1.3v1.3h-1.3zM201.2 137.8h1.3v1.3h-1.3zM183.0 166.1h1.3v1.3h-1.3zM189.0 155.5h1.3v1.3h-1.3zM162.4 172.6h1.3v1.3h-1.3zM173.8 171.5h1.3v1.3h-1.3zM197.4 146.3h1.3v1.3h-1.3zM211.5 139.8h1.3v1.3h-1.3zM149.5 199.1h1.3v1.3h-1.3zM168.7 167.4h1.3v1.3h-1.3zM169.4 167.2h1.3v1.3h-1.3zM166.3 168.3h1.3v1.3h-1.3zM182.3 167.6h1.3v1.3h-1.3zM188.1 159.2h1.3v1.3h-1.3zM147.8 201.4h1.3v1.3h-1.3zM157.8 185.5h1.3v1.3h-1.3zM176.8 178.0h1.3v1.3h-1.3zM174.1 168.1h1.3v1.3h-1.3zM197.4 156.7h1.3v1.3h-1.3zM186.3 168.3h1.3v1.3h-1.3zM155.4 192.0h1.3v1.3h-1.3zM151.5 196.2h1.3v1.3h-1.3zM157.7 172.8h1.3v1.3h-1.3zM162.8 172.6h1.3v1.3h-1.3zM195.4 138.4h1.3v1.3h-1.3zM171.0 180.9h1.3v1.3h-1.3zM147.6 206.7h1.3v1.3h-1.3zM147.6 199.2h1.3v1.3h-1.3zM202.6 149.3h1.3v1.3h-1.3zM149.6 188.8h1.3v1.3h-1.3zM197.9 149.9h1.3v1.3h-1.3zM161.8 184.7h1.3v1.3h-1.3zM141.3 191.3h1.3v1.3h-1.3zM147.2 191.5h1.3v1.3h-1.3zM160.0 184.4h1.3v1.3h-1.3zM179.0 172.9h1.3v1.3h-1.3zM158.3 195.3h1.3v1.3h-1.3zM160.6 179.4h1.3v1.3h-1.3zM155.6 196.5h1.3v1.3h-1.3zM151.4 185.8h1.3v1.3h-1.3zM160.3 179.0h1.3v1.3h-1.3zM152.8 195.8h1.3v1.3h-1.3zM202.3 134.0h1.3v1.3h-1.3zM160.0 177.2h1.3v1.3h-1.3zM211.6 138.8h1.3v1.3h-1.3zM171.5 178.6h1.3v1.3h-1.3zM143.1 203.7h1.3v1.3h-1.3zM175.5 181.0h1.3v1.3h-1.3zM165.6 169.7h1.3v1.3h-1.3zM163.1 169.1h1.3v1.3h-1.3zM143.2 193.4h1.3v1.3h-1.3zM168.4 166.2h1.3v1.3h-1.3zM180.1 150.5h1.3v1.3h-1.3zM140.8 191.8h1.3v1.3h-1.3zM155.5 182.2h1.3v1.3h-1.3zM209.6 148.0h1.3v1.3h-1.3zM188.7 159.1h1.3v1.3h-1.3zM149.3 199.5h1.3v1.3h-1.3zM153.1 183.2h1.3v1.3h-1.3zM169.8 179.9h1.3v1.3h-1.3zM184.9 169.3h1.3v1.3h-1.3zM177.0 158.8h1.3v1.3h-1.3zM166.8 173.7h1.3v1.3h-1.3zM147.4 198.3h1.3v1.3h-1.3zM210.7 141.8h1.3v1.3h-1.3zM153.0 180.3h1.3v1.3h-1.3zM158.2 182.5h1.3v1.3h-1.3zM145.5 205.8h1.3v1.3h-1.3zM160.9 187.3h1.3v1.3h-1.3zM166.9 179.4h1.3v1.3h-1.3zM137.8 199.5h1.3v1.3h-1.3zM148.9 201.7h1.3v1.3h-1.3zM155.5 192.4h1.3v1.3h-1.3zM179.6 153.3h1.3v1.3h-1.3zM152.5 178.5h1.3v1.3h-1.3zM201.4 139.8h1.3v1.3h-1.3zM170.8 170.5h1.3v1.3h-1.3zM169.8 161.8h1.3v1.3h-1.3zM188.8 155.2h1.3v1.3h-1.3zM203.1 141.2h1.3v1.3h-1.3zM155.8 184.3h1.3v1.3h-1.3zM159.4 191.9h1.3v1.3h-1.3zM181.7 156.1h1.3v1.3h-1.3zM184.5 150.9h1.3v1.3h-1.3zM167.0 186.9h1.3v1.3h-1.3zM160.6 190.0h1.3v1.3h-1.3zM155.9 190.7h1.3v1.3h-1.3zM181.5 171.1h1.3v1.3h-1.3zM175.3 181.7h1.3v1.3h-1.3zM173.4 170.6h1.3v1.3h-1.3zM159.9 198.0h1.3v1.3h-1.3zM195.6 137.7h1.3v1.3h-1.3zM186.7 163.6h1.3v1.3h-1.3zM185.6 156.6h1.3v1.3h-1.3zM159.8 175.6h1.3v1.3h-1.3zM172.6 176.9h1.3v1.3h-1.3zM185.6 157.5h1.3v1.3h-1.3zM199.7 132.9h1.3v1.3h-1.3zM174.6 167.5h1.3v1.3h-1.3zM149.5 183.4h1.3v1.3h-1.3zM149.9 203.9h1.3v1.3h-1.3zM183.6 152.8h1.3v1.3h-1.3zM142.1 191.3h1.3v1.3h-1.3zM160.2 191.8h1.3v1.3h-1.3zM175.6 175.2h1.3v1.3h-1.3zM142.9 196.0h1.3v1.3h-1.3zM205.5 137.5h1.3v1.3h-1.3zM194.3 147.3h1.3v1.3h-1.3zM172.1 173.5h1.3v1.3h-1.3zM152.6 178.6h1.3v1.3h-1.3zM164.2 182.6h1.3v1.3h-1.3zM162.8 188.8h1.3v1.3h-1.3zM148.2 180.9h1.3v1.3h-1.3zM184.4 166.4h1.3v1.3h-1.3zM148.7 186.3h1.3v1.3h-1.3zM143.5 196.6h1.3v1.3h-1.3zM154.7 188.9h1.3v1.3h-1.3zM158.8 181.6h1.3v1.3h-1.3zM145.5 201.0h1.3v1.3h-1.3zM200.4 142.8h1.3v1.3h-1.3zM197.9 141.4h1.3v1.3h-1.3zM159.6 182.0h1.3v1.3h-1.3zM201.6 139.9h1.3v1.3h-1.3zM195.4 144.7h1.3v1.3h-1.3zM198.3 149.0h1.3v1.3h-1.3zM200.6 143.8h1.3v1.3h-1.3zM187.5 152.5h1.3v1.3h-1.3zM134.5 196.5h1.3v1.3h-1.3zM142.4 194.0h1.3v1.3h-1.3zM187.9 147.9h1.3v1.3h-1.3zM153.8 187.7h1.3v1.3h-1.3zM159.3 195.2h1.3v1.3h-1.3zM184.5 165.3h1.3v1.3h-1.3zM181.5 155.0h1.3v1.3h-1.3zM179.4 152.0h1.3v1.3h-1.3zM156.8 193.1h1.3v1.3h-1.3zM188.1 159.8h1.3v1.3h-1.3zM190.8 163.2h1.3v1.3h-1.3zM147.5 197.9h1.3v1.3h-1.3zM190.5 147.6h1.3v1.3h-1.3zM201.8 146.6h1.3v1.3h-1.3zM176.6 166.5h1.3v1.3h-1.3zM179.5 163.3h1.3v1.3h-1.3zM174.5 168.4h1.3v1.3h-1.3zM192.5 159.9h1.3v1.3h-1.3zM145.9 190.2h1.3v1.3h-1.3zM188.9 149.8h1.3v1.3h-1.3zM211.0 138.5h1.3v1.3h-1.3zM143.4 184.3h1.3v1.3h-1.3zM151.7 182.6h1.3v1.3h-1.3zM205.5 135.0h1.3v1.3h-1.3zM194.6 151.8h1.3v1.3h-1.3zM170.9 162.8h1.3v1.3h-1.3zM147.3 205.7h1.3v1.3h-1.3zM188.0 162.3h1.3v1.3h-1.3zM170.9 178.8h1.3v1.3h-1.3zM197.0 152.5h1.3v1.3h-1.3zM148.0 181.4h1.3v1.3h-1.3zM151.3 178.3h1.3v1.3h-1.3zM196.4 140.3h1.3v1.3h-1.3zM141.0 203.1h1.3v1.3h-1.3zM165.4 175.2h1.3v1.3h-1.3zM199.6 153.2h1.3v1.3h-1.3zM198.9 155.5h1.3v1.3h-1.3zM169.4 165.4h1.3v1.3h-1.3zM205.8 141.5h1.3v1.3h-1.3zM192.3 145.0h1.3v1.3h-1.3zM203.1 136.4h1.3v1.3h-1.3zM145.6 206.3h1.3v1.3h-1.3zM146.6 199.6h1.3v1.3h-1.3zM173.3 165.9h1.3v1.3h-1.3zM163.9 175.0h1.3v1.3h-1.3zM200.8 143.7h1.3v1.3h-1.3zM160.8 180.9h1.3v1.3h-1.3zM202.8 150.0h1.3v1.3h-1.3zM139.7 194.9h1.3v1.3h-1.3zM177.6 171.7h1.3v1.3h-1.3zM177.5 169.6h1.3v1.3h-1.3zM201.2 147.3h1.3v1.3h-1.3zM150.0 184.5h1.3v1.3h-1.3zM206.1 142.3h1.3v1.3h-1.3zM182.4 171.9h1.3v1.3h-1.3zM197.4 158.6h1.3v1.3h-1.3zM169.7 176.9h1.3v1.3h-1.3zM151.9 203.8h1.3v1.3h-1.3zM193.0 162.0h1.3v1.3h-1.3zM173.8 157.6h1.3v1.3h-1.3zM147.1 197.3h1.3v1.3h-1.3zM172.6 163.2h1.3v1.3h-1.3zM166.7 168.0h1.3v1.3h-1.3zM192.9 137.0h1.3v1.3h-1.3zM195.2 146.7h1.3v1.3h-1.3zM159.2 187.1h1.3v1.3h-1.3zM185.0 166.9h1.3v1.3h-1.3zM170.9 168.9h1.3v1.3h-1.3zM168.2 181.0h1.3v1.3h-1.3zM146.9 200.5h1.3v1.3h-1.3zM192.5 164.1h1.3v1.3h-1.3zM169.7 167.8h1.3v1.3h-1.3zM165.6 178.2h1.3v1.3h-1.3zM192.7 139.4h1.3v1.3h-1.3zM137.5 197.9h1.3v1.3h-1.3zM160.4 180.5h1.3v1.3h-1.3zM187.1 145.0h1.3v1.3h-1.3zM143.4 190.9h1.3v1.3h-1.3zM156.2 176.5h1.3v1.3h-1.3zM166.5 169.8h1.3v1.3h-1.3zM154.6 184.8h1.3v1.3h-1.3zM201.2 136.8h1.3v1.3h-1.3zM189.2 152.6h1.3v1.3h-1.3zM174.9 158.4h1.3v1.3h-1.3zM169.8 184.5h1.3v1.3h-1.3zM163.3 187.8h1.3v1.3h-1.3zM200.7 130.5h1.3v1.3h-1.3zM174.7 168.4h1.3v1.3h-1.3zM155.0 176.5h1.3v1.3h-1.3zM200.7 144.2h1.3v1.3h-1.3zM188.7 162.3h1.3v1.3h-1.3zM183.6 169.8h1.3v1.3h-1.3zM151.3 194.6h1.3v1.3h-1.3zM210.9 143.2h1.3v1.3h-1.3zM185.0 169.8h1.3v1.3h-1.3zM181.8 165.5h1.3v1.3h-1.3zM157.4 183.5h1.3v1.3h-1.3zM141.0 197.2h1.3v1.3h-1.3zM199.4 145.1h1.3v1.3h-1.3zM192.8 144.5h1.3v1.3h-1.3zM205.1 137.9h1.3v1.3h-1.3zM156.4 185.8h1.3v1.3h-1.3zM145.4 207.7h1.3v1.3h-1.3zM148.0 191.7h1.3v1.3h-1.3zM148.9 199.1h1.3v1.3h-1.3zM191.9 165.3h1.3v1.3h-1.3zM161.4 185.1h1.3v1.3h-1.3zM138.2 192.6h1.3v1.3h-1.3zM157.2 178.0h1.3v1.3h-1.3zM193.7 145.2h1.3v1.3h-1.3zM180.6 173.1h1.3v1.3h-1.3zM162.4 171.4h1.3v1.3h-1.3zM187.1 149.6h1.3v1.3h-1.3zM194.1 162.7h1.3v1.3h-1.3zM169.1 183.7h1.3v1.3h-1.3zM145.2 192.5h1.3v1.3h-1.3zM153.2 198.9h1.3v1.3h-1.3zM159.7 183.0h1.3v1.3h-1.3zM173.0 158.9h1.3v1.3h-1.3zM198.7 154.0h1.3v1.3h-1.3zM181.4 157.2h1.3v1.3h-1.3z"/><path fill="#111" fill-opacity="0.45" d="M225.6 117.7h1.3v1.3h-1.3zM217.1 129.2h1.3v1.3h-1.3zM235.6 110.9h1.3v1.3h-1.3zM221.9 118.9h1.3v1.3h-1.3zM233.1 107.4h1.3v1.3h-1.3zM215.8 139.5h1.3v1.3h-1.3zM218.5 119.6h1.3v1.3h-1.3zM225.0 115.3h1.3v1.3h-1.3zM228.8 116.9h1.3v1.3h-1.3zM230.8 111.1h1.3v1.3h-1.3zM229.1 113.0h1.3v1.3h-1.3zM238.5 106.9h1.3v1.3h-1.3zM222.7 127.1h1.3v1.3h-1.3zM232.5 121.5h1.3v1.3h-1.3zM232.8 122.2h1.3v1.3h-1.3zM205.4 127.2h1.3v1.3h-1.3zM234.8 106.2h1.3v1.3h-1.3zM219.4 132.8h1.3v1.3h-1.3zM231.3 118.2h1.3v1.3h-1.3zM227.9 125.3h1.3v1.3h-1.3zM219.8 120.9h1.3v1.3h-1.3zM213.7 118.9h1.3v1.3h-1.3zM209.4 128.6h1.3v1.3h-1.3zM234.4 118.5h1.3v1.3h-1.3zM224.6 124.9h1.3v1.3h-1.3zM229.4 114.6h1.3v1.3h-1.3zM234.1 107.3h1.3v1.3h-1.3zM226.9 117.3h1.3v1.3h-1.3zM231.6 121.7h1.3v1.3h-1.3zM231.3 118.7h1.3v1.3h-1.3zM240.7 105.3h1.3v1.3h-1.3zM229.8 108.8h1.3v1.3h-1.3zM209.6 135.2h1.3v1.3h-1.3zM231.9 118.5h1.3v1.3h-1.3zM208.5 130.2h1.3v1.3h-1.3zM229.2 121.9h1.3v1.3h-1.3zM212.7 128.2h1.3v1.3h-1.3zM222.0 115.7h1.3v1.3h-1.3zM223.6 127.4h1.3v1.3h-1.3zM225.4 109.6h1.3v1.3h-1.3zM222.6 127.0h1.3v1.3h-1.3zM209.9 132.4h1.3v1.3h-1.3zM235.4 104.2h1.3v1.3h-1.3zM230.6 117.8h1.3v1.3h-1.3zM233.0 115.2h1.3v1.3h-1.3zM213.7 135.8h1.3v1.3h-1.3zM225.2 127.0h1.3v1.3h-1.3zM214.0 125.3h1.3v1.3h-1.3zM219.1 116.9h1.3v1.3h-1.3zM205.9 127.0h1.3v1.3h-1.3zM238.9 115.3h1.3v1.3h-1.3zM221.3 128.3h1.3v1.3h-1.3zM241.1 109.0h1.3v1.3h-1.3zM236.8 109.4h1.3v1.3h-1.3zM215.4 136.8h1.3v1.3h-1.3zM229.3 105.8h1.3v1.3h-1.3zM223.0 126.5h1.3v1.3h-1.3zM217.1 136.9h1.3v1.3h-1.3zM217.7 118.1h1.3v1.3h-1.3zM236.8 116.7h1.3v1.3h-1.3zM209.5 134.8h1.3v1.3h-1.3zM240.7 108.6h1.3v1.3h-1.3zM237.7 112.2h1.3v1.3h-1.3zM214.6 133.4h1.3v1.3h-1.3zM228.3 107.0h1.3v1.3h-1.3zM219.8 130.5h1.3v1.3h-1.3zM220.2 129.4h1.3v1.3h-1.3zM239.8 109.7h1.3v1.3h-1.3zM223.9 127.3h1.3v1.3h-1.3zM216.5 126.6h1.3v1.3h-1.3zM230.2 119.3h1.3v1.3h-1.3zM212.0 135.2h1.3v1.3h-1.3zM232.6 123.5h1.3v1.3h-1.3zM232.8 124.5h1.3v1.3h-1.3zM218.5 118.7h1.3v1.3h-1.3zM232.4 116.9h1.3v1.3h-1.3zM228.3 108.5h1.3v1.3h-1.3zM214.8 130.1h1.3v1.3h-1.3zM216.0 124.4h1.3v1.3h-1.3zM235.4 112.3h1.3v1.3h-1.3zM212.7 131.7h1.3v1.3h-1.3zM239.4 111.3h1.3v1.3h-1.3zM212.7 119.8h1.3v1.3h-1.3zM214.2 125.5h1.3v1.3h-1.3zM220.6 119.1h1.3v1.3h-1.3zM224.1 119.8h1.3v1.3h-1.3zM217.0 128.1h1.3v1.3h-1.3zM215.2 118.7h1.3v1.3h-1.3zM210.2 131.5h1.3v1.3h-1.3zM236.0 116.8h1.3v1.3h-1.3zM229.6 109.9h1.3v1.3h-1.3zM223.1 119.7h1.3v1.3h-1.3zM221.3 118.9h1.3v1.3h-1.3zM205.6 126.5h1.3v1.3h-1.3zM221.2 121.8h1.3v1.3h-1.3zM227.7 122.9h1.3v1.3h-1.3zM224.1 122.5h1.3v1.3h-1.3zM234.0 120.7h1.3v1.3h-1.3zM225.8 126.1h1.3v1.3h-1.3zM241.0 106.5h1.3v1.3h-1.3zM224.3 119.8h1.3v1.3h-1.3zM235.5 123.8h1.3v1.3h-1.3zM207.6 124.0h1.3v1.3h-1.3zM233.0 107.8h1.3v1.3h-1.3zM218.3 115.4h1.3v1.3h-1.3zM210.7 136.4h1.3v1.3h-1.3zM226.7 122.0h1.3v1.3h-1.3zM215.7 128.5h1.3v1.3h-1.3zM225.7 108.0h1.3v1.3h-1.3zM225.0 122.5h1.3v1.3h-1.3zM221.5 121.6h1.3v1.3h-1.3zM227.0 126.7h1.3v1.3h-1.3zM225.5 115.5h1.3v1.3h-1.3zM218.7 125.7h1.3v1.3h-1.3zM215.9 121.4h1.3v1.3h-1.3zM217.8 119.2h1.3v1.3h-1.3zM224.6 114.9h1.3v1.3h-1.3zM239.9 109.9h1.3v1.3h-1.3zM223.1 117.6h1.3v1.3h-1.3zM241.7 107.9h1.3v1.3h-1.3zM212.8 126.7h1.3v1.3h-1.3zM218.0 128.7h1.3v1.3h-1.3zM217.6 117.4h1.3v1.3h-1.3zM244.2 112.1h1.3v1.3h-1.3zM218.1 132.0h1.3v1.3h-1.3zM238.2 106.7h1.3v1.3h-1.3zM227.6 114.1h1.3v1.3h-1.3zM235.9 108.7h1.3v1.3h-1.3zM210.2 128.8h1.3v1.3h-1.3zM227.9 114.3h1.3v1.3h-1.3zM221.1 131.3h1.3v1.3h-1.3zM229.4 125.3h1.3v1.3h-1.3zM229.4 118.5h1.3v1.3h-1.3zM236.3 118.3h1.3v1.3h-1.3zM225.7 130.1h1.3v1.3h-1.3zM215.9 120.1h1.3v1.3h-1.3zM213.0 123.5h1.3v1.3h-1.3zM224.3 110.8h1.3v1.3h-1.3zM236.0 117.7h1.3v1.3h-1.3zM208.6 127.0h1.3v1.3h-1.3zM237.4 113.5h1.3v1.3h-1.3zM217.3 128.5h1.3v1.3h-1.3zM235.6 115.5h1.3v1.3h-1.3zM226.7 126.2h1.3v1.3h-1.3zM231.4 107.4h1.3v1.3h-1.3zM237.2 117.2h1.3v1.3h-1.3zM229.8 114.9h1.3v1.3h-1.3zM204.9 130.9h1.3v1.3h-1.3zM221.7 116.9h1.3v1.3h-1.3zM243.4 110.1h1.3v1.3h-1.3zM240.7 104.1h1.3v1.3h-1.3zM220.5 126.7h1.3v1.3h-1.3zM239.3 105.6h1.3v1.3h-1.3zM225.5 110.2h1.3v1.3h-1.3zM219.0 119.5h1.3v1.3h-1.3zM230.2 123.7h1.3v1.3h-1.3zM222.9 111.2h1.3v1.3h-1.3zM238.5 113.5h1.3v1.3h-1.3zM233.8 113.5h1.3v1.3h-1.3zM206.6 132.8h1.3v1.3h-1.3zM209.6 133.0h1.3v1.3h-1.3zM221.2 122.2h1.3v1.3h-1.3zM219.2 132.6h1.3v1.3h-1.3zM215.1 123.7h1.3v1.3h-1.3zM230.5 117.6h1.3v1.3h-1.3zM228.8 109.4h1.3v1.3h-1.3zM224.5 129.5h1.3v1.3h-1.3zM227.9 124.0h1.3v1.3h-1.3zM227.1 116.0h1.3v1.3h-1.3zM212.7 123.9h1.3v1.3h-1.3zM218.3 121.0h1.3v1.3h-1.3zM233.8 106.5h1.3v1.3h-1.3zM230.8 116.5h1.3v1.3h-1.3zM238.3 114.5h1.3v1.3h-1.3zM228.4 122.5h1.3v1.3h-1.3zM235.0 106.6h1.3v1.3h-1.3zM231.3 116.8h1.3v1.3h-1.3zM223.5 125.2h1.3v1.3h-1.3zM214.4 130.7h1.3v1.3h-1.3zM227.7 105.8h1.3v1.3h-1.3zM223.9 109.9h1.3v1.3h-1.3zM231.8 111.8h1.3v1.3h-1.3zM220.3 127.3h1.3v1.3h-1.3zM221.1 121.3h1.3v1.3h-1.3zM221.9 121.8h1.3v1.3h-1.3zM213.5 138.2h1.3v1.3h-1.3zM233.0 114.1h1.3v1.3h-1.3zM223.0 115.1h1.3v1.3h-1.3zM240.1 114.2h1.3v1.3h-1.3zM233.0 119.3h1.3v1.3h-1.3zM236.4 108.2h1.3v1.3h-1.3zM222.8 129.3h1.3v1.3h-1.3zM215.8 121.7h1.3v1.3h-1.3zM218.5 124.1h1.3v1.3h-1.3zM229.3 120.0h1.3v1.3h-1.3zM229.3 104.1h1.3v1.3h-1.3zM223.7 119.2h1.3v1.3h-1.3zM216.3 135.0h1.3v1.3h-1.3zM224.6 127.1h1.3v1.3h-1.3zM227.4 118.1h1.3v1.3h-1.3zM215.5 132.5h1.3v1.3h-1.3zM220.4 134.6h1.3v1.3h-1.3zM228.8 111.1h1.3v1.3h-1.3zM208.6 127.7h1.3v1.3h-1.3zM207.3 126.1h1.3v1.3h-1.3zM218.4 119.4h1.3v1.3h-1.3zM226.4 110.3h1.3v1.3h-1.3zM240.4 111.7h1.3v1.3h-1.3zM212.0 133.8h1.3v1.3h-1.3zM229.0 116.5h1.3v1.3h-1.3zM240.0 114.8h1.3v1.3h-1.3zM241.5 109.1h1.3v1.3h-1.3zM232.7 111.7h1.3v1.3h-1.3zM243.8 107.0h1.3v1.3h-1.3zM223.6 125.1h1.3v1.3h-1.3zM207.2 128.5h1.3v1.3h-1.3zM223.2 110.2h1.3v1.3h-1.3zM224.8 120.1h1.3v1.3h-1.3zM227.7 122.1h1.3v1.3h-1.3zM243.8 110.5h1.3v1.3h-1.3zM237.9 105.9h1.3v1.3h-1.3zM215.8 125.6h1.3v1.3h-1.3zM222.5 118.8h1.3v1.3h-1.3zM219.7 132.1h1.3v1.3h-1.3zM239.1 113.1h1.3v1.3h-1.3zM232.6 112.4h1.3v1.3h-1.3zM241.3 112.0h1.3v1.3h-1.3zM219.0 120.8h1.3v1.3h-1.3zM207.7 132.2h1.3v1.3h-1.3zM229.3 118.8h1.3v1.3h-1.3zM233.1 114.0h1.3v1.3h-1.3zM227.6 128.5h1.3v1.3h-1.3zM238.5 115.3h1.3v1.3h-1.3zM227.1 128.3h1.3v1.3h-1.3zM208.3 127.9h1.3v1.3h-1.3zM221.4 126.1h1.3v1.3h-1.3zM226.7 106.7h1.3v1.3h-1.3zM226.0 115.5h1.3v1.3h-1.3zM225.5 115.9h1.3v1.3h-1.3zM232.1 103.5h1.3v1.3h-1.3zM228.5 110.1h1.3v1.3h-1.3zM228.6 121.4h1.3v1.3h-1.3zM224.6 115.6h1.3v1.3h-1.3zM213.4 129.7h1.3v1.3h-1.3zM235.6 117.3h1.3v1.3h-1.3zM224.5 117.1h1.3v1.3h-1.3zM210.6 125.7h1.3v1.3h-1.3zM219.7 117.6h1.3v1.3h-1.3zM211.6 132.4h1.3v1.3h-1.3zM212.6 134.5h1.3v1.3h-1.3zM225.7 114.0h1.3v1.3h-1.3zM223.3 112.2h1.3v1.3h-1.3zM237.2 110.7h1.3v1.3h-1.3zM217.4 118.8h1.3v1.3h-1.3zM237.9 103.9h1.3v1.3h-1.3zM235.3 109.7h1.3v1.3h-1.3zM230.5 122.5h1.3v1.3h-1.3z"/><path fill="#e02222" fill-opacity="0.92" d="M109.4 207.3h1.45v1.45h-1.45zM122.2 191.8h1.45v1.45h-1.45zM87.8 231.3h1.45v1.45h-1.45zM145.1 152.4h1.45v1.45h-1.45zM126.5 182.3h1.45v1.45h-1.45zM93.6 219.9h1.45v1.45h-1.45zM210.4 119.2h1.45v1.45h-1.45zM95.0 212.5h1.45v1.45h-1.45zM110.6 213.2h1.45v1.45h-1.45zM141.6 181.4h1.45v1.45h-1.45zM112.4 207.2h1.45v1.45h-1.45zM193.9 131.3h1.45v1.45h-1.45zM156.6 155.4h1.45v1.45h-1.45zM181.6 129.0h1.45v1.45h-1.45zM205.4 125.6h1.45v1.45h-1.45zM154.1 163.8h1.45v1.45h-1.45zM109.2 173.3h1.45v1.45h-1.45zM127.2 178.9h1.45v1.45h-1.45zM119.6 203.4h1.45v1.45h-1.45zM153.6 159.8h1.45v1.45h-1.45zM136.0 187.4h1.45v1.45h-1.45zM127.5 164.9h1.45v1.45h-1.45zM82.8 225.2h1.45v1.45h-1.45zM94.0 228.1h1.45v1.45h-1.45zM171.9 146.1h1.45v1.45h-1.45zM91.8 232.4h1.45v1.45h-1.45zM144.5 182.8h1.45v1.45h-1.45zM113.7 209.9h1.45v1.45h-1.45zM213.7 117.0h1.45v1.45h-1.45zM196.0 117.3h1.45v1.45h-1.45zM196.2 129.1h1.45v1.45h-1.45zM135.0 187.2h1.45v1.45h-1.45zM154.8 136.2h1.45v1.45h-1.45zM165.7 147.1h1.45v1.45h-1.45zM149.8 176.3h1.45v1.45h-1.45zM130.7 193.6h1.45v1.45h-1.45zM82.2 220.6h1.45v1.45h-1.45zM117.0 204.1h1.45v1.45h-1.45zM132.9 158.3h1.45v1.45h-1.45zM105.1 215.2h1.45v1.45h-1.45zM150.3 177.6h1.45v1.45h-1.45zM140.0 166.7h1.45v1.45h-1.45zM153.1 136.8h1.45v1.45h-1.45zM125.6 153.7h1.45v1.45h-1.45zM99.7 221.7h1.45v1.45h-1.45zM126.0 197.6h1.45v1.45h-1.45zM167.9 148.4h1.45v1.45h-1.45zM114.6 169.1h1.45v1.45h-1.45zM127.4 196.6h1.45v1.45h-1.45zM124.2 203.5h1.45v1.45h-1.45zM88.8 233.2h1.45v1.45h-1.45zM167.7 131.5h1.45v1.45h-1.45zM95.9 209.4h1.45v1.45h-1.45zM154.5 170.3h1.45v1.45h-1.45zM174.6 155.1h1.45v1.45h-1.45zM99.3 196.3h1.45v1.45h-1.45zM158.4 138.7h1.45v1.45h-1.45zM135.4 178.8h1.45v1.45h-1.45zM120.1 202.2h1.45v1.45h-1.45zM81.3 228.0h1.45v1.45h-1.45zM166.0 160.4h1.45v1.45h-1.45zM116.6 208.2h1.45v1.45h-1.45zM113.6 212.0h1.45v1.45h-1.45zM139.6 186.2h1.45v1.45h-1.45zM92.8 182.0h1.45v1.45h-1.45zM133.6 186.6h1.45v1.45h-1.45zM126.1 199.6h1.45v1.45h-1.45zM145.2 169.0h1.45v1.45h-1.45zM196.4 129.3h1.45v1.45h-1.45zM115.6 177.0h1.45v1.45h-1.45zM161.9 159.3h1.45v1.45h-1.45zM87.4 191.4h1.45v1.45h-1.45zM176.7 140.1h1.45v1.45h-1.45zM101.3 201.5h1.45v1.45h-1.45zM88.4 196.3h1.45v1.45h-1.45zM90.1 232.0h1.45v1.45h-1.45zM113.2 192.1h1.45v1.45h-1.45zM206.4 122.3h1.45v1.45h-1.45zM202.6 122.0h1.45v1.45h-1.45zM86.9 230.9h1.45v1.45h-1.45zM112.9 203.4h1.45v1.45h-1.45zM140.7 183.2h1.45v1.45h-1.45zM159.8 158.8h1.45v1.45h-1.45zM94.0 230.8h1.45v1.45h-1.45zM157.4 153.1h1.45v1.45h-1.45zM92.1 208.4h1.45v1.45h-1.45zM133.2 172.6h1.45v1.45h-1.45zM163.5 156.3h1.45v1.45h-1.45zM189.0 135.5h1.45v1.45h-1.45zM104.1 191.9h1.45v1.45h-1.45zM119.3 205.5h1.45v1.45h-1.45zM89.5 218.5h1.45v1.45h-1.45zM183.6 132.3h1.45v1.45h-1.45zM91.4 216.3h1.45v1.45h-1.45zM91.8 192.8h1.45v1.45h-1.45zM116.8 198.9h1.45v1.45h-1.45zM125.4 189.2h1.45v1.45h-1.45zM162.2 154.7h1.45v1.45h-1.45zM84.4 225.8h1.45v1.45h-1.45zM108.3 213.6h1.45v1.45h-1.45zM119.0 206.8h1.45v1.45h-1.45zM107.8 173.2h1.45v1.45h-1.45zM124.8 183.2h1.45v1.45h-1.45zM101.0 173.9h1.45v1.45h-1.45zM139.2 145.2h1.45v1.45h-1.45zM86.7 231.8h1.45v1.45h-1.45zM104.0 204.8h1.45v1.45h-1.45zM188.9 139.8h1.45v1.45h-1.45zM108.4 177.3h1.45v1.45h-1.45zM100.0 164.2h1.45v1.45h-1.45zM92.7 214.6h1.45v1.45h-1.45zM97.6 225.3h1.45v1.45h-1.45zM92.5 162.8h1.45v1.45h-1.45zM116.2 207.7h1.45v1.45h-1.45zM127.4 191.4h1.45v1.45h-1.45zM110.4 211.3h1.45v1.45h-1.45zM125.8 156.7h1.45v1.45h-1.45zM93.3 223.8h1.45v1.45h-1.45zM104.6 207.3h1.45v1.45h-1.45zM116.6 166.9h1.45v1.45h-1.45zM182.1 142.3h1.45v1.45h-1.45zM137.0 190.6h1.45v1.45h-1.45zM92.7 210.1h1.45v1.45h-1.45zM117.9 176.2h1.45v1.45h-1.45zM158.9 154.2h1.45v1.45h-1.45zM164.5 153.6h1.45v1.45h-1.45zM89.6 209.3h1.45v1.45h-1.45zM170.2 158.4h1.45v1.45h-1.45zM173.0 154.6h1.45v1.45h-1.45zM122.7 180.3h1.45v1.45h-1.45zM126.7 171.8h1.45v1.45h-1.45zM120.3 205.1h1.45v1.45h-1.45zM96.0 210.5h1.45v1.45h-1.45zM136.5 185.1h1.45v1.45h-1.45zM105.2 210.5h1.45v1.45h-1.45zM162.3 162.1h1.45v1.45h-1.45zM175.5 135.0h1.45v1.45h-1.45zM97.7 227.1h1.45v1.45h-1.45zM105.3 182.5h1.45v1.45h-1.45zM131.5 162.2h1.45v1.45h-1.45zM123.7 184.3h1.45v1.45h-1.45zM175.9 142.8h1.45v1.45h-1.45zM85.0 232.2h1.45v1.45h-1.45zM104.2 211.0h1.45v1.45h-1.45zM109.8 212.6h1.45v1.45h-1.45zM134.3 191.2h1.45v1.45h-1.45zM152.3 173.3h1.45v1.45h-1.45zM192.3 136.9h1.45v1.45h-1.45zM117.0 201.7h1.45v1.45h-1.45zM92.0 211.0h1.45v1.45h-1.45zM183.1 130.8h1.45v1.45h-1.45zM135.0 187.1h1.45v1.45h-1.45zM151.4 174.6h1.45v1.45h-1.45zM146.7 144.8h1.45v1.45h-1.45zM82.7 228.8h1.45v1.45h-1.45zM140.5 159.0h1.45v1.45h-1.45zM98.9 217.9h1.45v1.45h-1.45zM143.6 155.9h1.45v1.45h-1.45zM136.3 190.2h1.45v1.45h-1.45zM151.4 174.0h1.45v1.45h-1.45zM176.7 143.0h1.45v1.45h-1.45zM176.6 151.2h1.45v1.45h-1.45zM145.3 172.4h1.45v1.45h-1.45zM88.1 190.3h1.45v1.45h-1.45zM114.0 205.0h1.45v1.45h-1.45zM110.6 185.8h1.45v1.45h-1.45zM116.8 206.8h1.45v1.45h-1.45zM89.1 222.3h1.45v1.45h-1.45zM162.2 139.9h1.45v1.45h-1.45zM182.5 129.8h1.45v1.45h-1.45zM102.4 200.8h1.45v1.45h-1.45zM147.6 179.1h1.45v1.45h-1.45zM115.8 205.1h1.45v1.45h-1.45zM149.6 146.6h1.45v1.45h-1.45zM130.4 171.2h1.45v1.45h-1.45zM206.0 121.3h1.45v1.45h-1.45zM195.9 123.7h1.45v1.45h-1.45zM113.6 207.1h1.45v1.45h-1.45zM131.3 189.8h1.45v1.45h-1.45zM165.1 154.9h1.45v1.45h-1.45zM94.1 217.9h1.45v1.45h-1.45zM206.7 121.3h1.45v1.45h-1.45zM81.1 190.3h1.45v1.45h-1.45zM143.3 183.7h1.45v1.45h-1.45zM142.4 168.7h1.45v1.45h-1.45zM112.2 187.4h1.45v1.45h-1.45zM100.3 187.3h1.45v1.45h-1.45zM116.0 190.0h1.45v1.45h-1.45zM155.4 148.2h1.45v1.45h-1.45zM146.4 157.0h1.45v1.45h-1.45zM91.5 196.4h1.45v1.45h-1.45zM162.7 146.5h1.45v1.45h-1.45zM92.6 214.2h1.45v1.45h-1.45zM156.4 164.9h1.45v1.45h-1.45zM160.7 168.3h1.45v1.45h-1.45zM165.6 133.5h1.45v1.45h-1.45zM140.7 158.2h1.45v1.45h-1.45zM97.6 222.1h1.45v1.45h-1.45zM122.8 195.1h1.45v1.45h-1.45zM201.6 120.5h1.45v1.45h-1.45zM153.0 158.8h1.45v1.45h-1.45zM87.1 229.5h1.45v1.45h-1.45zM165.5 143.1h1.45v1.45h-1.45zM118.9 206.0h1.45v1.45h-1.45zM129.2 196.1h1.45v1.45h-1.45zM123.4 198.2h1.45v1.45h-1.45zM194.9 127.9h1.45v1.45h-1.45zM88.6 234.0h1.45v1.45h-1.45zM89.8 222.6h1.45v1.45h-1.45zM166.8 143.7h1.45v1.45h-1.45zM140.1 169.1h1.45v1.45h-1.45zM165.1 152.8h1.45v1.45h-1.45zM168.4 152.0h1.45v1.45h-1.45zM127.7 171.1h1.45v1.45h-1.45zM175.7 122.8h1.45v1.45h-1.45zM114.4 190.7h1.45v1.45h-1.45zM92.3 224.9h1.45v1.45h-1.45zM92.5 191.9h1.45v1.45h-1.45zM115.4 192.8h1.45v1.45h-1.45zM96.8 210.2h1.45v1.45h-1.45zM100.5 223.2h1.45v1.45h-1.45zM117.1 189.9h1.45v1.45h-1.45zM161.9 141.5h1.45v1.45h-1.45zM109.6 204.7h1.45v1.45h-1.45zM146.5 178.6h1.45v1.45h-1.45zM120.2 178.5h1.45v1.45h-1.45zM139.5 175.2h1.45v1.45h-1.45zM150.9 147.6h1.45v1.45h-1.45zM157.8 160.7h1.45v1.45h-1.45zM156.7 161.9h1.45v1.45h-1.45zM163.0 147.8h1.45v1.45h-1.45zM156.4 152.0h1.45v1.45h-1.45zM180.1 145.6h1.45v1.45h-1.45zM197.5 116.4h1.45v1.45h-1.45zM86.6 217.5h1.45v1.45h-1.45zM129.4 192.8h1.45v1.45h-1.45zM138.4 189.3h1.45v1.45h-1.45zM93.3 219.2h1.45v1.45h-1.45zM102.4 181.1h1.45v1.45h-1.45zM159.4 134.1h1.45v1.45h-1.45zM101.9 220.9h1.45v1.45h-1.45zM168.0 156.8h1.45v1.45h-1.45zM91.2 224.0h1.45v1.45h-1.45zM184.4 129.0h1.45v1.45h-1.45zM98.7 216.8h1.45v1.45h-1.45zM158.9 164.9h1.45v1.45h-1.45zM133.0 182.7h1.45v1.45h-1.45zM153.2 169.9h1.45v1.45h-1.45zM127.4 187.9h1.45v1.45h-1.45zM197.6 127.1h1.45v1.45h-1.45zM117.4 184.7h1.45v1.45h-1.45zM166.7 156.1h1.45v1.45h-1.45zM164.8 135.9h1.45v1.45h-1.45zM98.7 223.9h1.45v1.45h-1.45zM169.1 160.0h1.45v1.45h-1.45zM91.8 226.2h1.45v1.45h-1.45zM85.1 224.3h1.45v1.45h-1.45zM180.8 144.8h1.45v1.45h-1.45zM156.7 169.4h1.45v1.45h-1.45zM180.4 130.3h1.45v1.45h-1.45zM156.0 143.5h1.45v1.45h-1.45zM104.9 221.9h1.45v1.45h-1.45zM156.5 166.7h1.45v1.45h-1.45zM130.2 191.7h1.45v1.45h-1.45zM89.8 233.3h1.45v1.45h-1.45zM109.6 196.3h1.45v1.45h-1.45zM156.4 148.0h1.45v1.45h-1.45zM165.7 151.8h1.45v1.45h-1.45zM153.8 153.4h1.45v1.45h-1.45zM107.7 202.7h1.45v1.45h-1.45zM114.8 206.0h1.45v1.45h-1.45zM159.5 160.7h1.45v1.45h-1.45zM145.0 164.8h1.45v1.45h-1.45zM111.6 182.3h1.45v1.45h-1.45zM130.6 176.6h1.45v1.45h-1.45zM123.6 182.2h1.45v1.45h-1.45zM176.0 140.3h1.45v1.45h-1.45zM138.1 158.6h1.45v1.45h-1.45zM96.4 179.5h1.45v1.45h-1.45zM151.4 177.7h1.45v1.45h-1.45zM182.2 146.5h1.45v1.45h-1.45zM89.0 183.4h1.45v1.45h-1.45zM164.4 149.8h1.45v1.45h-1.45zM124.6 192.5h1.45v1.45h-1.45zM139.5 174.1h1.45v1.45h-1.45zM81.8 219.0h1.45v1.45h-1.45zM122.6 200.1h1.45v1.45h-1.45zM172.0 155.8h1.45v1.45h-1.45zM115.0 208.3h1.45v1.45h-1.45zM86.1 230.4h1.45v1.45h-1.45zM139.9 180.9h1.45v1.45h-1.45zM149.4 164.7h1.45v1.45h-1.45zM165.0 160.3h1.45v1.45h-1.45zM107.1 184.7h1.45v1.45h-1.45zM152.6 175.9h1.45v1.45h-1.45zM106.1 175.6h1.45v1.45h-1.45zM196.2 128.2h1.45v1.45h-1.45zM116.1 208.3h1.45v1.45h-1.45zM139.7 150.0h1.45v1.45h-1.45zM91.9 226.3h1.45v1.45h-1.45zM151.6 159.1h1.45v1.45h-1.45zM130.2 167.4h1.45v1.45h-1.45zM163.4 150.3h1.45v1.45h-1.45zM144.8 183.7h1.45v1.45h-1.45zM158.4 169.3h1.45v1.45h-1.45zM148.5 171.2h1.45v1.45h-1.45zM163.1 160.1h1.45v1.45h-1.45zM148.4 164.5h1.45v1.45h-1.45zM86.0 188.2h1.45v1.45h-1.45zM174.2 138.2h1.45v1.45h-1.45zM151.2 158.2h1.45v1.45h-1.45zM108.1 186.7h1.45v1.45h-1.45zM111.2 173.0h1.45v1.45h-1.45zM107.9 190.4h1.45v1.45h-1.45zM197.1 118.3h1.45v1.45h-1.45zM138.5 183.6h1.45v1.45h-1.45zM134.8 170.8h1.45v1.45h-1.45zM185.2 134.1h1.45v1.45h-1.45zM111.0 213.7h1.45v1.45h-1.45zM168.5 158.1h1.45v1.45h-1.45zM116.7 204.8h1.45v1.45h-1.45zM161.7 134.4h1.45v1.45h-1.45zM113.1 188.5h1.45v1.45h-1.45zM112.3 209.5h1.45v1.45h-1.45zM151.0 160.0h1.45v1.45h-1.45zM116.1 206.8h1.45v1.45h-1.45zM92.4 212.6h1.45v1.45h-1.45zM160.0 163.9h1.45v1.45h-1.45zM161.8 160.8h1.45v1.45h-1.45zM87.9 223.1h1.45v1.45h-1.45zM139.0 181.0h1.45v1.45h-1.45zM118.5 203.2h1.45v1.45h-1.45zM154.1 159.1h1.45v1.45h-1.45zM90.5 225.1h1.45v1.45h-1.45zM199.5 123.4h1.45v1.45h-1.45zM118.3 206.8h1.45v1.45h-1.45zM172.3 153.1h1.45v1.45h-1.45zM176.0 131.8h1.45v1.45h-1.45zM91.7 228.3h1.45v1.45h-1.45zM127.0 157.5h1.45v1.45h-1.45zM109.2 198.1h1.45v1.45h-1.45zM86.6 233.2h1.45v1.45h-1.45zM151.0 173.9h1.45v1.45h-1.45zM99.5 220.8h1.45v1.45h-1.45zM108.7 213.8h1.45v1.45h-1.45zM194.4 118.5h1.45v1.45h-1.45zM161.3 147.4h1.45v1.45h-1.45zM199.6 118.6h1.45v1.45h-1.45zM102.7 218.0h1.45v1.45h-1.45zM175.5 149.3h1.45v1.45h-1.45zM113.8 180.9h1.45v1.45h-1.45zM160.0 163.6h1.45v1.45h-1.45zM85.8 206.8h1.45v1.45h-1.45zM104.7 168.8h1.45v1.45h-1.45zM81.9 220.0h1.45v1.45h-1.45zM171.4 146.4h1.45v1.45h-1.45zM132.9 138.9h1.45v1.45h-1.45zM213.2 114.0h1.45v1.45h-1.45zM137.5 185.1h1.45v1.45h-1.45zM152.0 154.5h1.45v1.45h-1.45zM100.8 216.2h1.45v1.45h-1.45zM91.3 216.1h1.45v1.45h-1.45zM205.4 119.4h1.45v1.45h-1.45zM136.8 160.6h1.45v1.45h-1.45zM141.0 157.7h1.45v1.45h-1.45zM178.5 143.0h1.45v1.45h-1.45zM82.9 229.0h1.45v1.45h-1.45zM203.9 114.0h1.45v1.45h-1.45zM179.8 122.6h1.45v1.45h-1.45zM111.7 212.9h1.45v1.45h-1.45zM131.0 180.4h1.45v1.45h-1.45zM207.2 116.0h1.45v1.45h-1.45zM99.9 220.1h1.45v1.45h-1.45zM82.4 229.1h1.45v1.45h-1.45zM103.4 183.2h1.45v1.45h-1.45zM116.9 199.5h1.45v1.45h-1.45zM145.8 179.2h1.45v1.45h-1.45zM164.7 157.7h1.45v1.45h-1.45zM211.2 113.6h1.45v1.45h-1.45zM93.9 175.6h1.45v1.45h-1.45zM169.9 143.2h1.45v1.45h-1.45zM137.3 171.9h1.45v1.45h-1.45zM150.5 137.3h1.45v1.45h-1.45zM83.2 228.1h1.45v1.45h-1.45zM158.7 156.4h1.45v1.45h-1.45zM94.6 208.9h1.45v1.45h-1.45zM159.5 152.1h1.45v1.45h-1.45zM125.4 189.2h1.45v1.45h-1.45zM111.2 164.4h1.45v1.45h-1.45zM122.8 204.2h1.45v1.45h-1.45zM88.3 229.5h1.45v1.45h-1.45zM111.4 196.1h1.45v1.45h-1.45zM199.6 125.4h1.45v1.45h-1.45zM103.8 193.3h1.45v1.45h-1.45zM133.8 177.1h1.45v1.45h-1.45zM105.3 171.1h1.45v1.45h-1.45zM137.4 184.3h1.45v1.45h-1.45zM182.4 136.4h1.45v1.45h-1.45zM147.2 179.2h1.45v1.45h-1.45zM193.1 135.2h1.45v1.45h-1.45zM86.2 207.7h1.45v1.45h-1.45zM111.1 183.8h1.45v1.45h-1.45zM115.1 197.1h1.45v1.45h-1.45zM153.8 170.5h1.45v1.45h-1.45zM131.4 172.1h1.45v1.45h-1.45zM132.4 195.6h1.45v1.45h-1.45zM86.1 216.2h1.45v1.45h-1.45zM182.3 130.0h1.45v1.45h-1.45zM115.6 183.2h1.45v1.45h-1.45zM161.3 157.4h1.45v1.45h-1.45zM106.8 182.8h1.45v1.45h-1.45zM180.5 147.4h1.45v1.45h-1.45zM101.5 219.6h1.45v1.45h-1.45zM121.5 200.0h1.45v1.45h-1.45zM146.5 170.8h1.45v1.45h-1.45zM150.9 156.2h1.45v1.45h-1.45zM154.9 158.3h1.45v1.45h-1.45zM186.4 124.0h1.45v1.45h-1.45zM171.7 125.3h1.45v1.45h-1.45zM110.8 211.7h1.45v1.45h-1.45zM159.9 155.7h1.45v1.45h-1.45zM148.6 180.1h1.45v1.45h-1.45zM93.8 213.1h1.45v1.45h-1.45zM110.2 202.6h1.45v1.45h-1.45zM151.9 157.6h1.45v1.45h-1.45zM93.6 231.6h1.45v1.45h-1.45zM166.3 147.7h1.45v1.45h-1.45zM94.2 229.8h1.45v1.45h-1.45zM118.5 154.0h1.45v1.45h-1.45zM177.6 137.1h1.45v1.45h-1.45zM150.4 151.8h1.45v1.45h-1.45zM142.6 153.5h1.45v1.45h-1.45zM86.4 223.5h1.45v1.45h-1.45zM142.5 156.6h1.45v1.45h-1.45zM116.8 196.9h1.45v1.45h-1.45zM123.9 179.6h1.45v1.45h-1.45zM175.0 134.8h1.45v1.45h-1.45zM93.7 211.9h1.45v1.45h-1.45zM87.5 212.1h1.45v1.45h-1.45zM120.4 201.0h1.45v1.45h-1.45zM117.6 144.3h1.45v1.45h-1.45zM154.3 166.4h1.45v1.45h-1.45zM122.1 179.4h1.45v1.45h-1.45zM155.9 153.6h1.45v1.45h-1.45zM109.5 175.5h1.45v1.45h-1.45zM180.9 137.0h1.45v1.45h-1.45zM109.4 210.5h1.45v1.45h-1.45zM166.2 161.4h1.45v1.45h-1.45zM83.9 189.7h1.45v1.45h-1.45zM150.1 147.3h1.45v1.45h-1.45zM117.1 192.3h1.45v1.45h-1.45zM94.3 204.8h1.45v1.45h-1.45zM139.3 172.9h1.45v1.45h-1.45zM116.8 199.6h1.45v1.45h-1.45zM185.5 139.3h1.45v1.45h-1.45zM95.9 185.0h1.45v1.45h-1.45zM121.3 203.9h1.45v1.45h-1.45zM146.1 179.1h1.45v1.45h-1.45zM133.8 184.8h1.45v1.45h-1.45zM131.9 145.6h1.45v1.45h-1.45zM117.4 186.2h1.45v1.45h-1.45zM129.1 185.2h1.45v1.45h-1.45zM112.2 193.4h1.45v1.45h-1.45zM185.8 132.3h1.45v1.45h-1.45zM196.8 127.9h1.45v1.45h-1.45zM134.4 185.0h1.45v1.45h-1.45zM131.4 156.4h1.45v1.45h-1.45zM151.4 159.0h1.45v1.45h-1.45zM119.2 180.3h1.45v1.45h-1.45zM181.6 145.7h1.45v1.45h-1.45zM146.2 181.0h1.45v1.45h-1.45zM141.0 184.1h1.45v1.45h-1.45zM103.8 221.0h1.45v1.45h-1.45zM179.6 142.5h1.45v1.45h-1.45zM92.3 193.7h1.45v1.45h-1.45zM196.6 132.4h1.45v1.45h-1.45zM113.2 151.9h1.45v1.45h-1.45zM107.4 206.3h1.45v1.45h-1.45zM86.5 183.4h1.45v1.45h-1.45zM179.9 145.6h1.45v1.45h-1.45zM143.8 181.7h1.45v1.45h-1.45zM156.1 169.9h1.45v1.45h-1.45zM110.0 174.7h1.45v1.45h-1.45zM96.9 223.4h1.45v1.45h-1.45zM91.3 202.5h1.45v1.45h-1.45zM112.6 183.0h1.45v1.45h-1.45zM130.6 161.3h1.45v1.45h-1.45zM174.2 136.4h1.45v1.45h-1.45zM135.1 179.1h1.45v1.45h-1.45zM171.1 154.0h1.45v1.45h-1.45zM102.7 221.3h1.45v1.45h-1.45zM101.8 220.6h1.45v1.45h-1.45zM119.8 184.3h1.45v1.45h-1.45zM155.6 166.5h1.45v1.45h-1.45zM158.7 164.3h1.45v1.45h-1.45zM123.4 201.1h1.45v1.45h-1.45zM174.3 152.4h1.45v1.45h-1.45zM168.5 141.1h1.45v1.45h-1.45zM173.3 129.9h1.45v1.45h-1.45zM94.7 216.7h1.45v1.45h-1.45zM90.0 212.7h1.45v1.45h-1.45zM90.9 194.2h1.45v1.45h-1.45zM178.4 138.2h1.45v1.45h-1.45zM89.6 204.9h1.45v1.45h-1.45zM152.9 167.0h1.45v1.45h-1.45zM81.8 223.4h1.45v1.45h-1.45zM111.7 200.7h1.45v1.45h-1.45zM122.3 198.6h1.45v1.45h-1.45zM95.7 185.0h1.45v1.45h-1.45zM170.0 141.4h1.45v1.45h-1.45zM157.3 168.5h1.45v1.45h-1.45zM105.7 220.8h1.45v1.45h-1.45zM107.9 217.5h1.45v1.45h-1.45zM93.4 218.2h1.45v1.45h-1.45zM126.9 191.7h1.45v1.45h-1.45zM93.7 177.6h1.45v1.45h-1.45zM158.7 160.6h1.45v1.45h-1.45zM183.9 132.5h1.45v1.45h-1.45zM136.9 175.4h1.45v1.45h-1.45zM134.0 177.6h1.45v1.45h-1.45zM111.1 191.4h1.45v1.45h-1.45zM85.9 221.1h1.45v1.45h-1.45zM142.3 167.7h1.45v1.45h-1.45zM189.4 118.0h1.45v1.45h-1.45zM170.3 154.2h1.45v1.45h-1.45zM99.9 223.3h1.45v1.45h-1.45zM129.2 194.3h1.45v1.45h-1.45zM118.2 202.8h1.45v1.45h-1.45zM179.5 128.2h1.45v1.45h-1.45zM99.4 221.9h1.45v1.45h-1.45zM181.6 133.9h1.45v1.45h-1.45zM138.9 175.6h1.45v1.45h-1.45zM135.0 159.9h1.45v1.45h-1.45zM111.2 166.8h1.45v1.45h-1.45zM139.5 180.9h1.45v1.45h-1.45zM95.1 226.5h1.45v1.45h-1.45zM112.3 208.7h1.45v1.45h-1.45zM137.7 186.9h1.45v1.45h-1.45zM112.5 176.1h1.45v1.45h-1.45zM134.4 173.5h1.45v1.45h-1.45zM118.8 179.9h1.45v1.45h-1.45zM165.7 133.0h1.45v1.45h-1.45zM100.9 220.1h1.45v1.45h-1.45zM96.8 178.5h1.45v1.45h-1.45zM151.6 145.8h1.45v1.45h-1.45zM117.4 206.6h1.45v1.45h-1.45zM104.9 191.8h1.45v1.45h-1.45zM93.7 216.6h1.45v1.45h-1.45zM89.6 191.0h1.45v1.45h-1.45zM113.9 180.3h1.45v1.45h-1.45zM98.6 213.9h1.45v1.45h-1.45zM170.7 135.9h1.45v1.45h-1.45zM90.0 199.9h1.45v1.45h-1.45zM158.7 155.5h1.45v1.45h-1.45zM81.4 215.7h1.45v1.45h-1.45zM162.1 134.0h1.45v1.45h-1.45zM101.4 222.6h1.45v1.45h-1.45zM147.8 169.9h1.45v1.45h-1.45zM111.9 213.1h1.45v1.45h-1.45zM138.0 159.0h1.45v1.45h-1.45zM105.0 209.8h1.45v1.45h-1.45zM121.6 203.4h1.45v1.45h-1.45zM93.5 211.9h1.45v1.45h-1.45zM145.5 158.1h1.45v1.45h-1.45zM97.5 222.0h1.45v1.45h-1.45zM156.0 154.4h1.45v1.45h-1.45zM175.4 154.5h1.45v1.45h-1.45zM194.0 135.1h1.45v1.45h-1.45zM92.6 232.9h1.45v1.45h-1.45zM121.3 203.1h1.45v1.45h-1.45zM163.7 138.9h1.45v1.45h-1.45zM97.8 198.6h1.45v1.45h-1.45zM83.7 195.6h1.45v1.45h-1.45zM147.0 179.1h1.45v1.45h-1.45zM162.0 148.3h1.45v1.45h-1.45zM145.2 161.7h1.45v1.45h-1.45zM109.9 178.2h1.45v1.45h-1.45zM148.9 178.3h1.45v1.45h-1.45zM142.8 183.8h1.45v1.45h-1.45zM91.4 228.8h1.45v1.45h-1.45zM100.4 180.1h1.45v1.45h-1.45zM161.8 164.4h1.45v1.45h-1.45zM160.2 159.9h1.45v1.45h-1.45zM191.3 133.6h1.45v1.45h-1.45zM89.5 233.2h1.45v1.45h-1.45zM174.3 153.1h1.45v1.45h-1.45zM159.9 162.1h1.45v1.45h-1.45zM166.8 152.0h1.45v1.45h-1.45zM114.8 208.9h1.45v1.45h-1.45zM150.0 167.6h1.45v1.45h-1.45zM128.8 192.3h1.45v1.45h-1.45zM177.2 128.8h1.45v1.45h-1.45zM166.9 134.4h1.45v1.45h-1.45zM139.3 185.4h1.45v1.45h-1.45zM173.1 141.9h1.45v1.45h-1.45zM105.5 195.7h1.45v1.45h-1.45zM129.8 192.8h1.45v1.45h-1.45zM119.6 197.6h1.45v1.45h-1.45zM157.1 165.2h1.45v1.45h-1.45zM135.2 163.1h1.45v1.45h-1.45zM132.9 180.2h1.45v1.45h-1.45zM192.8 133.4h1.45v1.45h-1.45zM110.2 212.5h1.45v1.45h-1.45zM119.4 187.0h1.45v1.45h-1.45zM168.9 149.7h1.45v1.45h-1.45zM155.3 168.5h1.45v1.45h-1.45zM148.9 164.0h1.45v1.45h-1.45zM112.4 192.8h1.45v1.45h-1.45zM114.2 186.0h1.45v1.45h-1.45zM172.7 154.8h1.45v1.45h-1.45zM150.6 149.6h1.45v1.45h-1.45zM133.0 193.3h1.45v1.45h-1.45zM115.2 205.2h1.45v1.45h-1.45zM182.6 143.8h1.45v1.45h-1.45zM107.5 216.2h1.45v1.45h-1.45zM198.2 126.8h1.45v1.45h-1.45zM169.6 137.6h1.45v1.45h-1.45zM165.2 149.8h1.45v1.45h-1.45zM148.3 165.8h1.45v1.45h-1.45zM150.1 173.8h1.45v1.45h-1.45zM170.3 147.2h1.45v1.45h-1.45zM184.5 121.5h1.45v1.45h-1.45zM170.6 125.8h1.45v1.45h-1.45zM149.6 175.2h1.45v1.45h-1.45zM104.2 193.7h1.45v1.45h-1.45zM141.0 160.3h1.45v1.45h-1.45zM183.9 142.8h1.45v1.45h-1.45zM116.8 199.0h1.45v1.45h-1.45zM124.4 197.6h1.45v1.45h-1.45zM124.7 201.0h1.45v1.45h-1.45zM95.3 226.4h1.45v1.45h-1.45zM102.0 174.6h1.45v1.45h-1.45zM196.9 116.4h1.45v1.45h-1.45zM87.3 218.4h1.45v1.45h-1.45zM96.2 226.3h1.45v1.45h-1.45zM125.4 190.9h1.45v1.45h-1.45zM124.8 165.7h1.45v1.45h-1.45zM93.1 192.4h1.45v1.45h-1.45zM110.4 201.4h1.45v1.45h-1.45zM113.8 181.1h1.45v1.45h-1.45zM90.9 170.7h1.45v1.45h-1.45zM129.4 190.5h1.45v1.45h-1.45zM168.4 158.3h1.45v1.45h-1.45zM157.6 167.7h1.45v1.45h-1.45zM120.7 195.0h1.45v1.45h-1.45zM132.7 194.1h1.45v1.45h-1.45zM96.4 216.3h1.45v1.45h-1.45zM82.6 228.3h1.45v1.45h-1.45zM106.2 217.6h1.45v1.45h-1.45zM109.0 185.2h1.45v1.45h-1.45zM158.3 144.2h1.45v1.45h-1.45zM84.1 206.0h1.45v1.45h-1.45zM120.3 187.2h1.45v1.45h-1.45zM155.8 156.0h1.45v1.45h-1.45zM98.5 222.1h1.45v1.45h-1.45zM111.4 213.4h1.45v1.45h-1.45zM109.8 195.0h1.45v1.45h-1.45zM92.2 203.7h1.45v1.45h-1.45zM150.4 158.2h1.45v1.45h-1.45zM159.4 160.8h1.45v1.45h-1.45zM128.5 193.0h1.45v1.45h-1.45zM86.9 209.9h1.45v1.45h-1.45zM126.7 200.5h1.45v1.45h-1.45zM86.0 232.9h1.45v1.45h-1.45zM154.6 168.7h1.45v1.45h-1.45zM132.7 187.3h1.45v1.45h-1.45zM120.7 197.7h1.45v1.45h-1.45zM118.6 167.6h1.45v1.45h-1.45zM139.7 185.9h1.45v1.45h-1.45zM134.1 178.8h1.45v1.45h-1.45zM176.2 145.3h1.45v1.45h-1.45zM101.3 219.9h1.45v1.45h-1.45zM167.9 157.5h1.45v1.45h-1.45zM143.5 176.9h1.45v1.45h-1.45zM94.0 208.9h1.45v1.45h-1.45zM98.6 211.0h1.45v1.45h-1.45zM81.1 212.2h1.45v1.45h-1.45zM100.8 215.9h1.45v1.45h-1.45zM137.9 146.3h1.45v1.45h-1.45zM119.6 195.5h1.45v1.45h-1.45zM108.3 208.2h1.45v1.45h-1.45zM101.0 187.9h1.45v1.45h-1.45zM164.9 152.8h1.45v1.45h-1.45zM169.3 148.3h1.45v1.45h-1.45zM175.1 144.2h1.45v1.45h-1.45zM103.2 181.0h1.45v1.45h-1.45zM87.7 229.2h1.45v1.45h-1.45zM166.4 142.9h1.45v1.45h-1.45zM174.5 142.9h1.45v1.45h-1.45zM136.9 189.8h1.45v1.45h-1.45zM156.3 149.4h1.45v1.45h-1.45zM151.9 155.4h1.45v1.45h-1.45zM145.9 165.8h1.45v1.45h-1.45zM139.1 186.0h1.45v1.45h-1.45zM132.4 165.3h1.45v1.45h-1.45zM131.7 156.8h1.45v1.45h-1.45zM87.8 228.2h1.45v1.45h-1.45zM99.5 195.9h1.45v1.45h-1.45zM93.9 230.4h1.45v1.45h-1.45zM139.6 186.8h1.45v1.45h-1.45zM126.3 199.5h1.45v1.45h-1.45zM157.6 169.5h1.45v1.45h-1.45zM152.4 172.1h1.45v1.45h-1.45zM162.2 162.7h1.45v1.45h-1.45zM165.2 141.1h1.45v1.45h-1.45zM112.1 210.2h1.45v1.45h-1.45zM86.6 211.8h1.45v1.45h-1.45zM194.8 129.8h1.45v1.45h-1.45zM160.4 134.7h1.45v1.45h-1.45zM185.5 121.4h1.45v1.45h-1.45zM119.0 175.4h1.45v1.45h-1.45zM112.6 172.6h1.45v1.45h-1.45zM104.2 217.3h1.45v1.45h-1.45zM138.2 187.3h1.45v1.45h-1.45zM142.4 184.6h1.45v1.45h-1.45zM85.9 233.6h1.45v1.45h-1.45zM183.3 141.9h1.45v1.45h-1.45zM198.1 121.9h1.45v1.45h-1.45zM107.5 190.2h1.45v1.45h-1.45zM187.4 121.5h1.45v1.45h-1.45zM93.3 178.0h1.45v1.45h-1.45zM150.2 174.8h1.45v1.45h-1.45zM113.5 199.5h1.45v1.45h-1.45zM161.6 135.2h1.45v1.45h-1.45zM194.6 128.9h1.45v1.45h-1.45zM111.6 209.0h1.45v1.45h-1.45zM133.5 188.8h1.45v1.45h-1.45zM117.7 206.7h1.45v1.45h-1.45zM123.7 184.0h1.45v1.45h-1.45zM169.3 157.9h1.45v1.45h-1.45zM108.1 197.4h1.45v1.45h-1.45zM150.1 156.0h1.45v1.45h-1.45zM167.5 150.2h1.45v1.45h-1.45zM176.8 121.8h1.45v1.45h-1.45zM105.2 207.8h1.45v1.45h-1.45zM157.9 168.5h1.45v1.45h-1.45zM100.7 187.4h1.45v1.45h-1.45zM91.1 209.5h1.45v1.45h-1.45zM102.7 213.5h1.45v1.45h-1.45zM153.4 155.4h1.45v1.45h-1.45zM168.4 148.9h1.45v1.45h-1.45zM119.9 185.7h1.45v1.45h-1.45zM156.1 164.1h1.45v1.45h-1.45zM143.8 181.8h1.45v1.45h-1.45zM163.3 160.8h1.45v1.45h-1.45zM112.9 214.1h1.45v1.45h-1.45zM177.9 144.9h1.45v1.45h-1.45zM131.5 196.2h1.45v1.45h-1.45zM144.1 168.1h1.45v1.45h-1.45zM142.6 176.0h1.45v1.45h-1.45zM157.0 156.7h1.45v1.45h-1.45zM84.9 215.8h1.45v1.45h-1.45zM196.6 125.7h1.45v1.45h-1.45zM166.0 150.5h1.45v1.45h-1.45zM118.6 208.4h1.45v1.45h-1.45zM191.7 124.9h1.45v1.45h-1.45zM110.4 212.0h1.45v1.45h-1.45zM121.2 201.3h1.45v1.45h-1.45zM118.4 196.3h1.45v1.45h-1.45zM134.1 167.5h1.45v1.45h-1.45zM107.9 197.1h1.45v1.45h-1.45zM151.7 175.9h1.45v1.45h-1.45zM171.0 134.4h1.45v1.45h-1.45zM89.4 209.2h1.45v1.45h-1.45zM90.5 189.8h1.45v1.45h-1.45zM100.5 220.4h1.45v1.45h-1.45zM205.5 116.4h1.45v1.45h-1.45zM104.5 221.0h1.45v1.45h-1.45zM166.1 129.2h1.45v1.45h-1.45zM158.8 152.0h1.45v1.45h-1.45zM187.8 132.4h1.45v1.45h-1.45zM131.3 193.2h1.45v1.45h-1.45zM130.3 159.5h1.45v1.45h-1.45zM85.2 182.4h1.45v1.45h-1.45zM184.4 128.1h1.45v1.45h-1.45zM98.8 199.4h1.45v1.45h-1.45zM83.2 220.2h1.45v1.45h-1.45zM144.4 159.3h1.45v1.45h-1.45zM99.9 166.2h1.45v1.45h-1.45zM159.5 156.8h1.45v1.45h-1.45zM149.3 175.3h1.45v1.45h-1.45zM117.8 179.2h1.45v1.45h-1.45zM175.5 134.9h1.45v1.45h-1.45zM190.6 138.7h1.45v1.45h-1.45zM151.9 170.2h1.45v1.45h-1.45zM163.1 157.9h1.45v1.45h-1.45zM125.0 180.4h1.45v1.45h-1.45zM101.9 218.0h1.45v1.45h-1.45zM126.4 195.8h1.45v1.45h-1.45zM155.7 140.7h1.45v1.45h-1.45zM108.3 214.1h1.45v1.45h-1.45zM124.0 188.0h1.45v1.45h-1.45zM98.2 219.6h1.45v1.45h-1.45zM146.1 181.4h1.45v1.45h-1.45zM172.5 154.0h1.45v1.45h-1.45zM142.5 154.9h1.45v1.45h-1.45zM146.0 176.2h1.45v1.45h-1.45zM124.6 195.7h1.45v1.45h-1.45zM194.9 135.1h1.45v1.45h-1.45zM126.8 174.9h1.45v1.45h-1.45zM129.8 183.0h1.45v1.45h-1.45zM172.0 155.5h1.45v1.45h-1.45zM109.4 216.6h1.45v1.45h-1.45zM109.9 210.1h1.45v1.45h-1.45zM118.8 203.3h1.45v1.45h-1.45zM161.0 165.1h1.45v1.45h-1.45zM113.2 196.8h1.45v1.45h-1.45zM119.6 208.5h1.45v1.45h-1.45zM123.0 165.8h1.45v1.45h-1.45zM192.3 130.0h1.45v1.45h-1.45zM116.8 172.8h1.45v1.45h-1.45zM112.7 210.1h1.45v1.45h-1.45zM165.4 145.3h1.45v1.45h-1.45zM174.2 138.7h1.45v1.45h-1.45zM83.4 219.7h1.45v1.45h-1.45zM205.7 117.2h1.45v1.45h-1.45zM125.3 153.5h1.45v1.45h-1.45zM112.6 209.6h1.45v1.45h-1.45zM99.7 180.8h1.45v1.45h-1.45zM162.9 140.2h1.45v1.45h-1.45zM96.9 214.9h1.45v1.45h-1.45zM125.6 197.7h1.45v1.45h-1.45zM148.5 161.7h1.45v1.45h-1.45zM108.3 182.5h1.45v1.45h-1.45zM119.7 191.1h1.45v1.45h-1.45zM117.3 204.1h1.45v1.45h-1.45zM95.0 226.4h1.45v1.45h-1.45zM133.4 170.7h1.45v1.45h-1.45zM186.0 125.0h1.45v1.45h-1.45zM112.6 213.3h1.45v1.45h-1.45zM162.2 128.1h1.45v1.45h-1.45zM200.9 119.7h1.45v1.45h-1.45zM86.7 193.0h1.45v1.45h-1.45zM90.8 184.0h1.45v1.45h-1.45zM91.9 219.1h1.45v1.45h-1.45zM180.8 148.9h1.45v1.45h-1.45zM126.8 171.2h1.45v1.45h-1.45zM133.9 163.5h1.45v1.45h-1.45zM91.6 223.6h1.45v1.45h-1.45zM126.3 196.5h1.45v1.45h-1.45zM163.3 163.9h1.45v1.45h-1.45zM82.5 230.6h1.45v1.45h-1.45zM96.2 214.4h1.45v1.45h-1.45zM99.7 189.6h1.45v1.45h-1.45zM170.6 155.2h1.45v1.45h-1.45zM108.7 202.6h1.45v1.45h-1.45zM114.6 208.8h1.45v1.45h-1.45zM95.3 230.1h1.45v1.45h-1.45zM157.3 144.5h1.45v1.45h-1.45zM93.2 224.8h1.45v1.45h-1.45zM184.3 144.5h1.45v1.45h-1.45zM190.7 139.1h1.45v1.45h-1.45zM99.0 190.2h1.45v1.45h-1.45zM97.1 217.8h1.45v1.45h-1.45zM93.6 222.2h1.45v1.45h-1.45zM95.2 229.8h1.45v1.45h-1.45zM138.0 164.6h1.45v1.45h-1.45zM101.5 172.0h1.45v1.45h-1.45zM105.7 204.6h1.45v1.45h-1.45zM133.0 190.9h1.45v1.45h-1.45zM105.5 219.4h1.45v1.45h-1.45zM156.8 164.5h1.45v1.45h-1.45zM178.0 148.3h1.45v1.45h-1.45zM101.6 215.4h1.45v1.45h-1.45zM97.1 224.7h1.45v1.45h-1.45zM88.5 233.4h1.45v1.45h-1.45zM158.4 156.7h1.45v1.45h-1.45zM136.7 188.3h1.45v1.45h-1.45zM124.5 201.0h1.45v1.45h-1.45zM149.5 173.8h1.45v1.45h-1.45zM109.9 188.5h1.45v1.45h-1.45zM132.3 154.6h1.45v1.45h-1.45zM91.7 233.9h1.45v1.45h-1.45zM87.2 230.3h1.45v1.45h-1.45zM93.7 202.8h1.45v1.45h-1.45zM120.7 193.5h1.45v1.45h-1.45zM110.1 179.2h1.45v1.45h-1.45zM157.8 167.9h1.45v1.45h-1.45zM97.8 209.8h1.45v1.45h-1.45zM168.0 161.0h1.45v1.45h-1.45zM126.2 185.9h1.45v1.45h-1.45zM144.4 164.5h1.45v1.45h-1.45zM148.3 169.2h1.45v1.45h-1.45zM141.3 182.5h1.45v1.45h-1.45zM114.6 210.8h1.45v1.45h-1.45zM115.6 182.1h1.45v1.45h-1.45zM158.6 153.1h1.45v1.45h-1.45zM135.5 178.6h1.45v1.45h-1.45zM195.3 117.2h1.45v1.45h-1.45zM157.1 157.8h1.45v1.45h-1.45zM121.3 203.7h1.45v1.45h-1.45zM119.2 191.2h1.45v1.45h-1.45zM92.0 199.7h1.45v1.45h-1.45zM113.0 201.7h1.45v1.45h-1.45zM191.0 132.3h1.45v1.45h-1.45zM131.4 194.0h1.45v1.45h-1.45zM113.0 210.9h1.45v1.45h-1.45zM131.3 186.6h1.45v1.45h-1.45zM87.5 227.0h1.45v1.45h-1.45zM189.2 118.6h1.45v1.45h-1.45zM114.8 200.5h1.45v1.45h-1.45zM107.4 175.1h1.45v1.45h-1.45zM146.1 166.7h1.45v1.45h-1.45zM201.6 125.6h1.45v1.45h-1.45zM166.6 150.0h1.45v1.45h-1.45zM115.0 190.4h1.45v1.45h-1.45zM195.1 130.0h1.45v1.45h-1.45zM93.0 225.1h1.45v1.45h-1.45zM155.5 163.9h1.45v1.45h-1.45zM165.1 146.1h1.45v1.45h-1.45zM112.8 195.9h1.45v1.45h-1.45zM111.4 178.9h1.45v1.45h-1.45zM87.1 233.5h1.45v1.45h-1.45zM170.7 126.7h1.45v1.45h-1.45zM87.4 229.2h1.45v1.45h-1.45zM124.2 192.7h1.45v1.45h-1.45zM134.9 182.2h1.45v1.45h-1.45zM87.2 212.6h1.45v1.45h-1.45zM124.5 194.8h1.45v1.45h-1.45zM129.4 174.8h1.45v1.45h-1.45zM149.7 163.8h1.45v1.45h-1.45zM98.8 210.4h1.45v1.45h-1.45zM140.9 176.8h1.45v1.45h-1.45zM187.5 131.3h1.45v1.45h-1.45zM90.4 217.7h1.45v1.45h-1.45zM126.5 168.1h1.45v1.45h-1.45zM185.0 132.3h1.45v1.45h-1.45zM168.6 143.9h1.45v1.45h-1.45zM82.6 229.9h1.45v1.45h-1.45zM100.7 209.4h1.45v1.45h-1.45zM93.7 186.2h1.45v1.45h-1.45zM133.5 170.7h1.45v1.45h-1.45zM85.2 222.6h1.45v1.45h-1.45zM83.8 229.3h1.45v1.45h-1.45zM111.8 207.2h1.45v1.45h-1.45zM125.4 162.3h1.45v1.45h-1.45zM110.2 186.4h1.45v1.45h-1.45zM95.2 192.2h1.45v1.45h-1.45zM125.3 200.7h1.45v1.45h-1.45zM101.0 181.1h1.45v1.45h-1.45zM120.1 198.9h1.45v1.45h-1.45zM102.3 217.2h1.45v1.45h-1.45zM111.0 213.7h1.45v1.45h-1.45zM176.8 127.2h1.45v1.45h-1.45zM95.4 218.6h1.45v1.45h-1.45zM130.8 167.4h1.45v1.45h-1.45zM105.4 187.4h1.45v1.45h-1.45zM136.8 187.9h1.45v1.45h-1.45zM123.1 199.5h1.45v1.45h-1.45zM147.0 154.5h1.45v1.45h-1.45zM182.4 100.8h1.45v1.45h-1.45z"/><rect x="70.0" y="217.4" width="1.4" height="17.4" fill="#e02222"/><path fill="#e02222" fill-opacity="0.9" d="M70.0 216.6h1.5v1.5h-1.5zM70.0 215.4h1.5v1.5h-1.5zM70.0 214.1h1.5v1.5h-1.5zM70.0 212.7h1.5v1.5h-1.5zM70.0 211.1h1.5v1.5h-1.5zM70.0 209.5h1.5v1.5h-1.5zM70.0 207.8h1.5v1.5h-1.5zM70.0 205.9h1.5v1.5h-1.5zM70.0 203.9h1.5v1.5h-1.5zM70.0 201.8h1.5v1.5h-1.5zM70.0 199.5h1.5v1.5h-1.5zM70.0 197.1h1.5v1.5h-1.5zM70.0 194.5h1.5v1.5h-1.5zM70.0 191.7h1.5v1.5h-1.5zM70.0 188.7h1.5v1.5h-1.5zM70.0 185.5h1.5v1.5h-1.5zM70.0 182.1h1.5v1.5h-1.5zM70.0 178.4h1.5v1.5h-1.5zM70.0 174.5h1.5v1.5h-1.5z"/><path fill="#6cb43a" fill-opacity="0.9" d="M148.4 228.1h1.45v1.45h-1.45zM141.1 217.8h1.45v1.45h-1.45zM177.1 214.5h1.45v1.45h-1.45zM110.8 266.1h1.45v1.45h-1.45zM224.2 138.9h1.45v1.45h-1.45zM160.6 214.3h1.45v1.45h-1.45zM209.0 157.0h1.45v1.45h-1.45zM162.2 256.8h1.45v1.45h-1.45zM174.0 189.6h1.45v1.45h-1.45zM151.1 226.2h1.45v1.45h-1.45zM193.0 202.8h1.45v1.45h-1.45zM189.7 176.4h1.45v1.45h-1.45zM144.9 259.4h1.45v1.45h-1.45zM183.3 190.9h1.45v1.45h-1.45zM217.1 142.9h1.45v1.45h-1.45zM153.9 205.5h1.45v1.45h-1.45zM131.3 237.7h1.45v1.45h-1.45zM117.7 248.6h1.45v1.45h-1.45zM173.0 197.0h1.45v1.45h-1.45zM179.2 182.6h1.45v1.45h-1.45zM195.1 202.1h1.45v1.45h-1.45zM188.5 195.8h1.45v1.45h-1.45zM167.5 192.5h1.45v1.45h-1.45zM131.2 251.0h1.45v1.45h-1.45zM149.4 223.5h1.45v1.45h-1.45zM110.9 250.4h1.45v1.45h-1.45zM231.1 130.9h1.45v1.45h-1.45zM153.3 202.0h1.45v1.45h-1.45zM175.9 230.7h1.45v1.45h-1.45zM152.8 253.6h1.45v1.45h-1.45zM115.5 241.5h1.45v1.45h-1.45zM142.1 227.0h1.45v1.45h-1.45zM111.4 254.7h1.45v1.45h-1.45zM122.6 235.1h1.45v1.45h-1.45zM198.9 157.5h1.45v1.45h-1.45zM196.2 183.7h1.45v1.45h-1.45zM146.7 238.9h1.45v1.45h-1.45zM144.8 218.5h1.45v1.45h-1.45zM134.8 222.2h1.45v1.45h-1.45zM111.0 258.7h1.45v1.45h-1.45zM200.3 176.6h1.45v1.45h-1.45zM110.7 249.3h1.45v1.45h-1.45zM157.5 256.2h1.45v1.45h-1.45zM174.7 187.0h1.45v1.45h-1.45zM180.0 187.8h1.45v1.45h-1.45zM166.3 205.7h1.45v1.45h-1.45zM165.3 205.5h1.45v1.45h-1.45zM149.6 247.7h1.45v1.45h-1.45zM112.4 249.0h1.45v1.45h-1.45zM147.0 212.8h1.45v1.45h-1.45zM111.3 255.1h1.45v1.45h-1.45zM196.2 169.4h1.45v1.45h-1.45zM161.2 238.7h1.45v1.45h-1.45zM161.9 202.8h1.45v1.45h-1.45zM194.4 194.6h1.45v1.45h-1.45zM202.7 176.7h1.45v1.45h-1.45zM229.5 126.4h1.45v1.45h-1.45zM198.7 165.6h1.45v1.45h-1.45zM123.5 249.5h1.45v1.45h-1.45zM141.9 240.2h1.45v1.45h-1.45zM194.2 204.0h1.45v1.45h-1.45zM158.2 208.5h1.45v1.45h-1.45zM205.8 182.7h1.45v1.45h-1.45zM116.1 243.6h1.45v1.45h-1.45zM113.6 266.5h1.45v1.45h-1.45zM116.8 256.8h1.45v1.45h-1.45zM149.6 207.1h1.45v1.45h-1.45zM204.9 158.2h1.45v1.45h-1.45zM124.8 237.8h1.45v1.45h-1.45zM152.1 216.4h1.45v1.45h-1.45zM203.0 183.4h1.45v1.45h-1.45zM124.0 246.7h1.45v1.45h-1.45zM207.0 180.8h1.45v1.45h-1.45zM174.5 203.7h1.45v1.45h-1.45zM215.6 144.6h1.45v1.45h-1.45zM174.0 184.9h1.45v1.45h-1.45zM176.7 193.1h1.45v1.45h-1.45zM197.5 166.2h1.45v1.45h-1.45zM204.4 155.6h1.45v1.45h-1.45zM138.8 263.0h1.45v1.45h-1.45zM131.4 227.2h1.45v1.45h-1.45zM110.8 263.0h1.45v1.45h-1.45zM127.0 228.9h1.45v1.45h-1.45zM112.0 258.2h1.45v1.45h-1.45zM197.9 172.2h1.45v1.45h-1.45zM224.6 159.3h1.45v1.45h-1.45zM127.9 229.0h1.45v1.45h-1.45zM182.2 188.8h1.45v1.45h-1.45zM168.3 206.1h1.45v1.45h-1.45zM120.2 262.8h1.45v1.45h-1.45zM141.3 217.6h1.45v1.45h-1.45zM149.4 211.9h1.45v1.45h-1.45zM175.2 208.4h1.45v1.45h-1.45zM226.1 142.3h1.45v1.45h-1.45zM197.2 190.3h1.45v1.45h-1.45zM184.7 181.8h1.45v1.45h-1.45zM127.6 251.6h1.45v1.45h-1.45zM173.1 190.0h1.45v1.45h-1.45zM146.0 254.9h1.45v1.45h-1.45zM209.9 162.8h1.45v1.45h-1.45zM163.2 217.2h1.45v1.45h-1.45zM129.4 231.8h1.45v1.45h-1.45zM166.5 204.7h1.45v1.45h-1.45zM174.7 208.1h1.45v1.45h-1.45zM159.8 222.1h1.45v1.45h-1.45zM170.6 223.0h1.45v1.45h-1.45zM156.3 218.6h1.45v1.45h-1.45zM202.7 157.1h1.45v1.45h-1.45zM154.2 206.4h1.45v1.45h-1.45zM144.1 269.0h1.45v1.45h-1.45zM172.6 184.2h1.45v1.45h-1.45zM160.3 229.4h1.45v1.45h-1.45zM141.2 225.7h1.45v1.45h-1.45zM160.9 201.1h1.45v1.45h-1.45zM111.1 254.0h1.45v1.45h-1.45zM168.1 233.4h1.45v1.45h-1.45zM184.0 194.3h1.45v1.45h-1.45zM110.9 250.3h1.45v1.45h-1.45zM115.1 240.0h1.45v1.45h-1.45zM208.4 156.5h1.45v1.45h-1.45zM215.3 179.3h1.45v1.45h-1.45zM130.0 262.0h1.45v1.45h-1.45zM188.4 176.6h1.45v1.45h-1.45zM230.8 138.6h1.45v1.45h-1.45zM115.2 246.6h1.45v1.45h-1.45zM171.3 185.8h1.45v1.45h-1.45zM218.1 170.7h1.45v1.45h-1.45zM198.9 160.1h1.45v1.45h-1.45zM165.9 199.6h1.45v1.45h-1.45zM164.8 192.1h1.45v1.45h-1.45zM117.4 269.0h1.45v1.45h-1.45zM171.9 187.9h1.45v1.45h-1.45zM194.8 172.7h1.45v1.45h-1.45zM126.4 231.5h1.45v1.45h-1.45zM112.2 246.1h1.45v1.45h-1.45zM178.8 181.7h1.45v1.45h-1.45zM205.6 176.2h1.45v1.45h-1.45zM199.2 163.3h1.45v1.45h-1.45zM110.7 254.0h1.45v1.45h-1.45zM166.0 197.8h1.45v1.45h-1.45zM110.9 246.8h1.45v1.45h-1.45zM144.2 213.5h1.45v1.45h-1.45zM134.5 228.7h1.45v1.45h-1.45zM113.1 266.0h1.45v1.45h-1.45zM168.6 205.3h1.45v1.45h-1.45zM158.8 209.4h1.45v1.45h-1.45zM111.2 247.6h1.45v1.45h-1.45zM116.1 258.3h1.45v1.45h-1.45zM215.9 158.9h1.45v1.45h-1.45zM185.4 198.5h1.45v1.45h-1.45zM167.3 192.7h1.45v1.45h-1.45zM136.6 251.0h1.45v1.45h-1.45zM210.0 156.4h1.45v1.45h-1.45zM168.0 204.8h1.45v1.45h-1.45zM140.3 237.3h1.45v1.45h-1.45zM174.0 249.8h1.45v1.45h-1.45zM145.8 227.1h1.45v1.45h-1.45zM174.1 198.3h1.45v1.45h-1.45zM111.1 249.3h1.45v1.45h-1.45zM183.9 173.5h1.45v1.45h-1.45zM157.2 225.4h1.45v1.45h-1.45zM184.6 193.7h1.45v1.45h-1.45zM232.6 128.4h1.45v1.45h-1.45zM167.9 199.4h1.45v1.45h-1.45zM145.1 252.1h1.45v1.45h-1.45zM135.7 237.1h1.45v1.45h-1.45zM163.1 218.8h1.45v1.45h-1.45zM159.8 218.2h1.45v1.45h-1.45zM122.9 242.1h1.45v1.45h-1.45zM168.3 216.3h1.45v1.45h-1.45zM174.8 226.1h1.45v1.45h-1.45zM178.9 222.1h1.45v1.45h-1.45zM156.8 214.6h1.45v1.45h-1.45zM172.2 189.9h1.45v1.45h-1.45zM171.9 206.3h1.45v1.45h-1.45zM227.7 139.6h1.45v1.45h-1.45zM154.1 205.2h1.45v1.45h-1.45zM160.5 200.1h1.45v1.45h-1.45zM142.1 259.6h1.45v1.45h-1.45zM116.7 262.5h1.45v1.45h-1.45zM212.4 178.9h1.45v1.45h-1.45zM171.7 237.5h1.45v1.45h-1.45zM178.1 180.6h1.45v1.45h-1.45zM192.6 170.0h1.45v1.45h-1.45zM152.9 204.2h1.45v1.45h-1.45zM181.6 182.3h1.45v1.45h-1.45zM171.9 186.4h1.45v1.45h-1.45zM164.5 260.7h1.45v1.45h-1.45zM197.6 165.1h1.45v1.45h-1.45zM111.2 258.5h1.45v1.45h-1.45zM180.4 176.6h1.45v1.45h-1.45zM179.6 201.7h1.45v1.45h-1.45zM172.0 191.9h1.45v1.45h-1.45zM165.2 209.5h1.45v1.45h-1.45zM162.3 195.7h1.45v1.45h-1.45zM203.2 161.6h1.45v1.45h-1.45zM191.1 170.2h1.45v1.45h-1.45zM141.3 225.8h1.45v1.45h-1.45zM235.5 137.7h1.45v1.45h-1.45zM219.5 139.7h1.45v1.45h-1.45zM147.4 221.5h1.45v1.45h-1.45zM156.1 207.6h1.45v1.45h-1.45zM153.2 223.8h1.45v1.45h-1.45zM129.9 246.4h1.45v1.45h-1.45zM159.6 201.0h1.45v1.45h-1.45zM174.6 205.9h1.45v1.45h-1.45zM118.9 244.8h1.45v1.45h-1.45zM122.9 231.8h1.45v1.45h-1.45zM176.9 219.7h1.45v1.45h-1.45zM194.7 166.2h1.45v1.45h-1.45zM206.2 176.5h1.45v1.45h-1.45zM186.1 177.8h1.45v1.45h-1.45zM153.7 236.0h1.45v1.45h-1.45zM204.1 156.8h1.45v1.45h-1.45zM110.7 259.9h1.45v1.45h-1.45zM118.7 245.6h1.45v1.45h-1.45zM141.9 223.8h1.45v1.45h-1.45zM177.7 210.4h1.45v1.45h-1.45zM184.8 174.7h1.45v1.45h-1.45zM132.8 236.2h1.45v1.45h-1.45zM152.4 215.6h1.45v1.45h-1.45zM219.5 145.1h1.45v1.45h-1.45zM111.0 255.5h1.45v1.45h-1.45zM180.7 230.6h1.45v1.45h-1.45zM154.9 242.7h1.45v1.45h-1.45zM205.4 159.6h1.45v1.45h-1.45zM146.7 212.2h1.45v1.45h-1.45zM132.3 243.9h1.45v1.45h-1.45zM178.7 184.7h1.45v1.45h-1.45zM162.1 221.2h1.45v1.45h-1.45zM122.7 252.8h1.45v1.45h-1.45zM118.2 257.2h1.45v1.45h-1.45zM149.6 215.7h1.45v1.45h-1.45zM194.7 176.0h1.45v1.45h-1.45zM159.7 231.5h1.45v1.45h-1.45zM134.9 240.8h1.45v1.45h-1.45zM171.5 197.5h1.45v1.45h-1.45zM221.3 160.1h1.45v1.45h-1.45zM132.5 254.3h1.45v1.45h-1.45zM142.0 225.9h1.45v1.45h-1.45zM153.5 245.9h1.45v1.45h-1.45zM174.5 233.3h1.45v1.45h-1.45zM131.2 233.1h1.45v1.45h-1.45zM110.9 261.4h1.45v1.45h-1.45zM222.6 136.1h1.45v1.45h-1.45zM140.0 229.3h1.45v1.45h-1.45zM134.3 254.6h1.45v1.45h-1.45zM139.2 220.9h1.45v1.45h-1.45zM148.1 218.9h1.45v1.45h-1.45zM183.5 218.3h1.45v1.45h-1.45zM127.3 244.8h1.45v1.45h-1.45zM130.1 267.1h1.45v1.45h-1.45zM146.4 223.4h1.45v1.45h-1.45zM111.0 259.4h1.45v1.45h-1.45zM153.7 231.9h1.45v1.45h-1.45zM114.1 258.8h1.45v1.45h-1.45zM170.4 203.1h1.45v1.45h-1.45zM181.9 229.5h1.45v1.45h-1.45zM223.6 137.5h1.45v1.45h-1.45zM112.9 247.2h1.45v1.45h-1.45zM157.7 227.2h1.45v1.45h-1.45zM152.8 204.2h1.45v1.45h-1.45zM124.6 252.3h1.45v1.45h-1.45zM172.4 184.8h1.45v1.45h-1.45zM180.0 196.5h1.45v1.45h-1.45zM149.5 213.9h1.45v1.45h-1.45zM211.2 165.7h1.45v1.45h-1.45zM211.5 153.4h1.45v1.45h-1.45zM199.7 197.8h1.45v1.45h-1.45zM163.4 214.2h1.45v1.45h-1.45zM205.2 157.4h1.45v1.45h-1.45zM210.5 160.1h1.45v1.45h-1.45zM203.1 190.3h1.45v1.45h-1.45zM110.8 247.3h1.45v1.45h-1.45zM176.6 230.9h1.45v1.45h-1.45zM176.1 198.0h1.45v1.45h-1.45zM201.0 172.9h1.45v1.45h-1.45zM213.3 169.0h1.45v1.45h-1.45zM111.0 254.9h1.45v1.45h-1.45zM115.8 249.3h1.45v1.45h-1.45zM183.5 179.4h1.45v1.45h-1.45zM117.8 252.7h1.45v1.45h-1.45zM199.3 165.0h1.45v1.45h-1.45zM176.3 207.0h1.45v1.45h-1.45zM111.0 263.5h1.45v1.45h-1.45zM127.9 269.3h1.45v1.45h-1.45zM126.8 237.6h1.45v1.45h-1.45zM140.0 256.2h1.45v1.45h-1.45zM139.5 237.3h1.45v1.45h-1.45zM144.7 263.7h1.45v1.45h-1.45zM185.0 184.7h1.45v1.45h-1.45zM218.1 148.6h1.45v1.45h-1.45zM178.4 204.2h1.45v1.45h-1.45zM176.1 223.4h1.45v1.45h-1.45zM144.9 224.5h1.45v1.45h-1.45zM148.7 213.6h1.45v1.45h-1.45zM178.3 195.7h1.45v1.45h-1.45zM151.0 223.5h1.45v1.45h-1.45zM159.7 202.0h1.45v1.45h-1.45zM136.3 268.7h1.45v1.45h-1.45zM146.8 209.0h1.45v1.45h-1.45zM198.9 163.4h1.45v1.45h-1.45zM154.5 224.3h1.45v1.45h-1.45zM115.9 247.9h1.45v1.45h-1.45zM122.9 269.0h1.45v1.45h-1.45zM138.5 220.6h1.45v1.45h-1.45zM121.5 244.8h1.45v1.45h-1.45zM175.8 181.1h1.45v1.45h-1.45zM210.6 163.8h1.45v1.45h-1.45zM235.4 143.2h1.45v1.45h-1.45zM175.7 181.1h1.45v1.45h-1.45zM118.0 239.8h1.45v1.45h-1.45zM192.9 211.6h1.45v1.45h-1.45zM165.0 212.3h1.45v1.45h-1.45zM125.3 247.0h1.45v1.45h-1.45zM150.3 228.7h1.45v1.45h-1.45zM181.1 188.7h1.45v1.45h-1.45zM218.2 145.3h1.45v1.45h-1.45zM192.0 175.7h1.45v1.45h-1.45zM128.7 233.4h1.45v1.45h-1.45zM230.9 130.6h1.45v1.45h-1.45zM173.1 185.0h1.45v1.45h-1.45zM193.0 206.1h1.45v1.45h-1.45zM111.2 254.1h1.45v1.45h-1.45zM110.9 254.8h1.45v1.45h-1.45zM111.0 254.7h1.45v1.45h-1.45zM133.1 243.2h1.45v1.45h-1.45zM197.1 170.9h1.45v1.45h-1.45zM111.1 252.8h1.45v1.45h-1.45zM113.4 244.1h1.45v1.45h-1.45zM199.7 164.5h1.45v1.45h-1.45zM152.1 203.6h1.45v1.45h-1.45zM157.9 216.1h1.45v1.45h-1.45zM141.6 219.6h1.45v1.45h-1.45zM184.8 213.9h1.45v1.45h-1.45zM182.6 193.1h1.45v1.45h-1.45zM195.8 174.8h1.45v1.45h-1.45zM171.4 229.4h1.45v1.45h-1.45zM184.6 178.9h1.45v1.45h-1.45zM173.2 244.3h1.45v1.45h-1.45zM218.3 155.8h1.45v1.45h-1.45zM130.6 258.4h1.45v1.45h-1.45zM135.1 232.5h1.45v1.45h-1.45zM121.4 238.0h1.45v1.45h-1.45zM154.0 218.0h1.45v1.45h-1.45zM111.4 247.7h1.45v1.45h-1.45zM137.0 236.5h1.45v1.45h-1.45zM129.6 233.1h1.45v1.45h-1.45zM161.2 207.9h1.45v1.45h-1.45zM126.7 238.6h1.45v1.45h-1.45zM130.3 258.5h1.45v1.45h-1.45zM171.1 196.9h1.45v1.45h-1.45zM159.8 196.8h1.45v1.45h-1.45zM143.5 224.3h1.45v1.45h-1.45zM165.1 191.6h1.45v1.45h-1.45zM172.9 201.4h1.45v1.45h-1.45zM117.1 241.7h1.45v1.45h-1.45zM128.1 241.2h1.45v1.45h-1.45zM139.2 269.2h1.45v1.45h-1.45zM208.0 179.4h1.45v1.45h-1.45zM165.5 194.4h1.45v1.45h-1.45zM172.2 232.2h1.45v1.45h-1.45zM111.3 248.6h1.45v1.45h-1.45zM111.0 255.1h1.45v1.45h-1.45zM161.1 209.2h1.45v1.45h-1.45zM188.0 175.0h1.45v1.45h-1.45zM156.9 201.8h1.45v1.45h-1.45zM149.4 225.9h1.45v1.45h-1.45zM137.6 250.4h1.45v1.45h-1.45zM115.9 248.7h1.45v1.45h-1.45zM115.3 250.6h1.45v1.45h-1.45zM180.8 191.9h1.45v1.45h-1.45zM199.4 169.0h1.45v1.45h-1.45zM156.5 207.0h1.45v1.45h-1.45zM222.2 154.6h1.45v1.45h-1.45zM187.1 187.1h1.45v1.45h-1.45zM129.5 239.9h1.45v1.45h-1.45zM193.6 164.8h1.45v1.45h-1.45zM213.6 149.4h1.45v1.45h-1.45zM186.5 193.3h1.45v1.45h-1.45zM188.6 168.4h1.45v1.45h-1.45zM129.8 230.1h1.45v1.45h-1.45zM136.4 258.2h1.45v1.45h-1.45zM183.6 180.4h1.45v1.45h-1.45zM112.9 263.8h1.45v1.45h-1.45zM157.0 221.5h1.45v1.45h-1.45zM200.4 193.4h1.45v1.45h-1.45zM144.9 268.8h1.45v1.45h-1.45zM111.2 268.3h1.45v1.45h-1.45zM137.9 240.0h1.45v1.45h-1.45zM155.4 203.4h1.45v1.45h-1.45zM111.0 256.6h1.45v1.45h-1.45zM224.3 136.3h1.45v1.45h-1.45zM197.1 169.1h1.45v1.45h-1.45zM158.0 203.5h1.45v1.45h-1.45zM110.8 257.0h1.45v1.45h-1.45zM170.5 242.2h1.45v1.45h-1.45zM176.9 205.6h1.45v1.45h-1.45zM133.9 262.7h1.45v1.45h-1.45zM168.7 219.9h1.45v1.45h-1.45zM179.8 233.2h1.45v1.45h-1.45zM169.2 224.4h1.45v1.45h-1.45zM121.4 250.8h1.45v1.45h-1.45zM168.0 251.1h1.45v1.45h-1.45zM123.5 242.6h1.45v1.45h-1.45zM121.5 240.3h1.45v1.45h-1.45zM155.3 232.0h1.45v1.45h-1.45zM146.4 213.3h1.45v1.45h-1.45zM166.1 244.5h1.45v1.45h-1.45zM148.0 247.5h1.45v1.45h-1.45zM180.4 194.1h1.45v1.45h-1.45zM116.7 259.5h1.45v1.45h-1.45zM216.0 146.6h1.45v1.45h-1.45zM191.9 171.1h1.45v1.45h-1.45zM137.9 220.3h1.45v1.45h-1.45zM140.6 249.0h1.45v1.45h-1.45zM111.3 247.2h1.45v1.45h-1.45zM161.9 262.7h1.45v1.45h-1.45zM126.4 250.3h1.45v1.45h-1.45zM196.0 167.3h1.45v1.45h-1.45zM145.0 253.8h1.45v1.45h-1.45zM134.1 252.6h1.45v1.45h-1.45zM132.9 222.3h1.45v1.45h-1.45zM203.8 158.4h1.45v1.45h-1.45zM228.5 129.8h1.45v1.45h-1.45zM173.5 202.9h1.45v1.45h-1.45zM111.3 251.0h1.45v1.45h-1.45zM113.9 248.1h1.45v1.45h-1.45zM185.7 176.8h1.45v1.45h-1.45zM188.4 212.9h1.45v1.45h-1.45zM198.9 162.9h1.45v1.45h-1.45zM165.6 197.3h1.45v1.45h-1.45zM195.3 172.4h1.45v1.45h-1.45zM178.6 190.3h1.45v1.45h-1.45zM183.2 184.7h1.45v1.45h-1.45zM185.7 221.0h1.45v1.45h-1.45zM193.3 165.5h1.45v1.45h-1.45zM223.8 147.8h1.45v1.45h-1.45zM175.7 183.8h1.45v1.45h-1.45zM139.7 221.8h1.45v1.45h-1.45zM111.8 253.1h1.45v1.45h-1.45zM124.0 239.0h1.45v1.45h-1.45zM128.5 236.7h1.45v1.45h-1.45zM218.4 167.1h1.45v1.45h-1.45zM141.8 269.0h1.45v1.45h-1.45zM132.3 244.4h1.45v1.45h-1.45zM169.7 195.9h1.45v1.45h-1.45zM126.8 232.2h1.45v1.45h-1.45zM152.5 204.4h1.45v1.45h-1.45zM144.3 269.2h1.45v1.45h-1.45zM150.6 204.9h1.45v1.45h-1.45zM137.0 268.9h1.45v1.45h-1.45zM154.8 237.1h1.45v1.45h-1.45zM138.9 230.2h1.45v1.45h-1.45zM162.1 195.1h1.45v1.45h-1.45zM163.9 226.6h1.45v1.45h-1.45zM208.3 184.7h1.45v1.45h-1.45zM194.6 191.0h1.45v1.45h-1.45zM201.6 161.5h1.45v1.45h-1.45zM110.8 247.7h1.45v1.45h-1.45zM191.6 165.7h1.45v1.45h-1.45zM168.7 221.9h1.45v1.45h-1.45zM168.3 244.2h1.45v1.45h-1.45zM164.7 200.2h1.45v1.45h-1.45zM118.8 246.5h1.45v1.45h-1.45zM213.0 142.9h1.45v1.45h-1.45zM147.8 207.3h1.45v1.45h-1.45zM183.9 199.0h1.45v1.45h-1.45zM189.1 209.8h1.45v1.45h-1.45zM149.4 238.5h1.45v1.45h-1.45zM131.6 230.3h1.45v1.45h-1.45zM131.1 268.7h1.45v1.45h-1.45zM154.4 231.3h1.45v1.45h-1.45zM212.5 171.7h1.45v1.45h-1.45zM166.4 216.3h1.45v1.45h-1.45zM135.8 241.1h1.45v1.45h-1.45zM144.3 224.3h1.45v1.45h-1.45zM121.7 269.2h1.45v1.45h-1.45zM204.3 192.3h1.45v1.45h-1.45zM152.4 245.0h1.45v1.45h-1.45zM147.3 212.1h1.45v1.45h-1.45zM110.7 257.1h1.45v1.45h-1.45zM133.1 226.7h1.45v1.45h-1.45zM162.6 204.7h1.45v1.45h-1.45zM187.3 172.4h1.45v1.45h-1.45zM160.2 241.6h1.45v1.45h-1.45zM139.9 258.5h1.45v1.45h-1.45zM111.3 251.8h1.45v1.45h-1.45zM148.7 218.0h1.45v1.45h-1.45zM207.1 156.5h1.45v1.45h-1.45zM139.3 229.6h1.45v1.45h-1.45zM197.2 175.3h1.45v1.45h-1.45zM175.7 201.7h1.45v1.45h-1.45zM110.8 259.5h1.45v1.45h-1.45zM148.3 269.1h1.45v1.45h-1.45zM110.9 256.3h1.45v1.45h-1.45zM153.6 222.6h1.45v1.45h-1.45zM120.7 237.6h1.45v1.45h-1.45zM136.1 228.0h1.45v1.45h-1.45zM149.2 257.0h1.45v1.45h-1.45zM136.3 222.3h1.45v1.45h-1.45zM119.6 246.2h1.45v1.45h-1.45zM115.7 255.2h1.45v1.45h-1.45zM165.4 195.2h1.45v1.45h-1.45zM182.4 203.5h1.45v1.45h-1.45zM145.5 233.6h1.45v1.45h-1.45zM111.3 252.1h1.45v1.45h-1.45zM132.4 260.3h1.45v1.45h-1.45zM125.0 244.4h1.45v1.45h-1.45zM134.0 241.7h1.45v1.45h-1.45zM139.6 248.0h1.45v1.45h-1.45zM122.7 248.8h1.45v1.45h-1.45zM208.0 151.3h1.45v1.45h-1.45zM164.8 193.4h1.45v1.45h-1.45zM122.5 233.3h1.45v1.45h-1.45zM121.2 259.1h1.45v1.45h-1.45zM125.7 242.1h1.45v1.45h-1.45zM148.4 266.8h1.45v1.45h-1.45zM117.1 239.4h1.45v1.45h-1.45zM172.5 191.5h1.45v1.45h-1.45zM121.5 235.2h1.45v1.45h-1.45zM223.2 143.5h1.45v1.45h-1.45zM148.9 254.7h1.45v1.45h-1.45zM185.1 194.9h1.45v1.45h-1.45zM159.0 210.0h1.45v1.45h-1.45zM122.9 239.9h1.45v1.45h-1.45zM120.0 268.8h1.45v1.45h-1.45zM131.7 259.4h1.45v1.45h-1.45zM170.3 198.0h1.45v1.45h-1.45zM196.3 190.4h1.45v1.45h-1.45zM115.8 241.8h1.45v1.45h-1.45zM154.3 239.2h1.45v1.45h-1.45zM119.5 250.7h1.45v1.45h-1.45zM125.9 231.6h1.45v1.45h-1.45zM176.2 206.6h1.45v1.45h-1.45zM145.4 214.5h1.45v1.45h-1.45zM111.1 248.8h1.45v1.45h-1.45zM166.6 193.9h1.45v1.45h-1.45zM212.3 176.0h1.45v1.45h-1.45zM180.8 196.6h1.45v1.45h-1.45zM204.9 157.0h1.45v1.45h-1.45zM168.0 221.3h1.45v1.45h-1.45zM157.9 206.4h1.45v1.45h-1.45zM122.9 244.9h1.45v1.45h-1.45zM215.9 142.5h1.45v1.45h-1.45zM125.3 241.8h1.45v1.45h-1.45zM128.6 251.5h1.45v1.45h-1.45zM172.5 194.7h1.45v1.45h-1.45zM210.9 183.0h1.45v1.45h-1.45zM111.4 245.5h1.45v1.45h-1.45zM191.9 172.1h1.45v1.45h-1.45zM201.0 158.7h1.45v1.45h-1.45zM111.4 253.1h1.45v1.45h-1.45zM128.7 253.8h1.45v1.45h-1.45zM226.6 139.6h1.45v1.45h-1.45zM119.4 237.6h1.45v1.45h-1.45zM167.9 194.4h1.45v1.45h-1.45zM152.0 247.0h1.45v1.45h-1.45zM207.4 152.5h1.45v1.45h-1.45zM111.2 254.4h1.45v1.45h-1.45zM152.2 244.5h1.45v1.45h-1.45zM110.9 249.6h1.45v1.45h-1.45zM179.3 184.7h1.45v1.45h-1.45zM127.8 249.7h1.45v1.45h-1.45zM121.1 235.8h1.45v1.45h-1.45zM113.7 243.6h1.45v1.45h-1.45zM139.5 218.0h1.45v1.45h-1.45zM155.2 254.4h1.45v1.45h-1.45zM219.7 162.0h1.45v1.45h-1.45zM140.5 248.6h1.45v1.45h-1.45zM123.2 237.8h1.45v1.45h-1.45zM178.2 187.5h1.45v1.45h-1.45zM117.2 266.3h1.45v1.45h-1.45zM204.9 165.6h1.45v1.45h-1.45zM111.1 259.7h1.45v1.45h-1.45zM127.1 244.6h1.45v1.45h-1.45zM136.3 219.5h1.45v1.45h-1.45zM167.3 204.4h1.45v1.45h-1.45zM181.9 184.4h1.45v1.45h-1.45zM200.8 170.1h1.45v1.45h-1.45zM139.7 223.7h1.45v1.45h-1.45zM111.2 251.4h1.45v1.45h-1.45zM163.8 195.4h1.45v1.45h-1.45zM146.6 219.1h1.45v1.45h-1.45zM206.6 152.1h1.45v1.45h-1.45zM142.8 219.1h1.45v1.45h-1.45zM144.8 221.6h1.45v1.45h-1.45zM189.5 186.7h1.45v1.45h-1.45zM222.3 134.0h1.45v1.45h-1.45zM134.0 226.8h1.45v1.45h-1.45zM170.6 251.0h1.45v1.45h-1.45zM166.2 198.5h1.45v1.45h-1.45zM163.3 220.8h1.45v1.45h-1.45zM148.1 210.4h1.45v1.45h-1.45zM127.1 240.9h1.45v1.45h-1.45zM121.4 240.6h1.45v1.45h-1.45zM156.9 199.2h1.45v1.45h-1.45zM163.2 207.3h1.45v1.45h-1.45zM110.7 261.4h1.45v1.45h-1.45zM110.9 253.9h1.45v1.45h-1.45zM159.5 225.9h1.45v1.45h-1.45zM142.7 240.9h1.45v1.45h-1.45zM166.5 191.4h1.45v1.45h-1.45zM153.0 251.6h1.45v1.45h-1.45zM142.6 212.9h1.45v1.45h-1.45zM178.9 233.5h1.45v1.45h-1.45zM159.2 243.4h1.45v1.45h-1.45zM210.5 175.8h1.45v1.45h-1.45zM213.0 152.6h1.45v1.45h-1.45zM178.8 177.4h1.45v1.45h-1.45zM139.1 229.6h1.45v1.45h-1.45zM192.2 203.0h1.45v1.45h-1.45zM138.3 243.4h1.45v1.45h-1.45zM149.4 214.8h1.45v1.45h-1.45zM144.1 223.4h1.45v1.45h-1.45zM122.8 232.7h1.45v1.45h-1.45zM182.5 183.1h1.45v1.45h-1.45zM128.4 259.1h1.45v1.45h-1.45zM127.4 228.9h1.45v1.45h-1.45zM163.4 195.5h1.45v1.45h-1.45zM170.3 205.1h1.45v1.45h-1.45zM218.5 146.2h1.45v1.45h-1.45zM166.2 252.9h1.45v1.45h-1.45zM123.9 255.7h1.45v1.45h-1.45zM209.9 146.6h1.45v1.45h-1.45zM181.5 209.4h1.45v1.45h-1.45zM139.9 217.0h1.45v1.45h-1.45zM141.0 232.8h1.45v1.45h-1.45zM160.9 205.7h1.45v1.45h-1.45zM149.3 216.1h1.45v1.45h-1.45zM154.4 217.7h1.45v1.45h-1.45zM159.3 243.7h1.45v1.45h-1.45zM138.5 254.0h1.45v1.45h-1.45zM178.6 181.2h1.45v1.45h-1.45zM150.2 262.4h1.45v1.45h-1.45zM189.0 200.5h1.45v1.45h-1.45zM155.4 232.6h1.45v1.45h-1.45zM177.3 200.7h1.45v1.45h-1.45zM142.4 226.4h1.45v1.45h-1.45zM154.1 205.6h1.45v1.45h-1.45zM229.7 146.2h1.45v1.45h-1.45zM215.9 159.6h1.45v1.45h-1.45zM128.9 267.2h1.45v1.45h-1.45zM185.8 196.6h1.45v1.45h-1.45zM190.5 190.2h1.45v1.45h-1.45zM165.1 211.3h1.45v1.45h-1.45zM136.1 246.2h1.45v1.45h-1.45zM214.8 146.7h1.45v1.45h-1.45zM122.7 236.3h1.45v1.45h-1.45zM157.4 197.7h1.45v1.45h-1.45zM111.2 251.0h1.45v1.45h-1.45zM111.4 258.1h1.45v1.45h-1.45zM225.0 139.0h1.45v1.45h-1.45zM173.9 226.0h1.45v1.45h-1.45zM179.6 176.8h1.45v1.45h-1.45zM138.4 250.7h1.45v1.45h-1.45zM180.0 208.2h1.45v1.45h-1.45zM186.1 179.2h1.45v1.45h-1.45zM137.1 239.3h1.45v1.45h-1.45zM132.2 224.2h1.45v1.45h-1.45zM216.7 181.9h1.45v1.45h-1.45zM142.4 253.6h1.45v1.45h-1.45zM198.4 162.4h1.45v1.45h-1.45zM196.7 164.5h1.45v1.45h-1.45zM162.2 246.9h1.45v1.45h-1.45zM176.5 216.9h1.45v1.45h-1.45zM176.8 188.5h1.45v1.45h-1.45zM148.6 238.3h1.45v1.45h-1.45zM185.4 178.2h1.45v1.45h-1.45zM168.2 245.7h1.45v1.45h-1.45zM122.7 240.3h1.45v1.45h-1.45zM152.0 219.2h1.45v1.45h-1.45zM184.7 203.3h1.45v1.45h-1.45zM132.9 269.2h1.45v1.45h-1.45zM117.6 245.1h1.45v1.45h-1.45zM143.4 212.8h1.45v1.45h-1.45zM174.2 203.4h1.45v1.45h-1.45zM206.5 191.8h1.45v1.45h-1.45zM157.3 221.7h1.45v1.45h-1.45zM118.4 237.0h1.45v1.45h-1.45zM212.8 162.5h1.45v1.45h-1.45zM155.5 202.1h1.45v1.45h-1.45zM143.7 252.9h1.45v1.45h-1.45zM141.7 234.9h1.45v1.45h-1.45zM195.9 179.7h1.45v1.45h-1.45zM150.9 241.2h1.45v1.45h-1.45zM135.6 249.9h1.45v1.45h-1.45zM166.1 207.0h1.45v1.45h-1.45zM193.4 211.4h1.45v1.45h-1.45zM134.2 256.6h1.45v1.45h-1.45zM173.4 208.2h1.45v1.45h-1.45zM183.5 197.8h1.45v1.45h-1.45zM129.4 263.0h1.45v1.45h-1.45zM152.7 226.2h1.45v1.45h-1.45zM194.1 192.8h1.45v1.45h-1.45zM162.1 240.0h1.45v1.45h-1.45zM165.2 193.2h1.45v1.45h-1.45zM158.5 240.9h1.45v1.45h-1.45zM120.4 235.7h1.45v1.45h-1.45zM171.8 245.9h1.45v1.45h-1.45zM134.3 247.9h1.45v1.45h-1.45zM153.3 239.8h1.45v1.45h-1.45zM163.0 198.8h1.45v1.45h-1.45zM195.3 202.5h1.45v1.45h-1.45zM171.3 212.7h1.45v1.45h-1.45zM127.4 255.2h1.45v1.45h-1.45zM124.5 235.7h1.45v1.45h-1.45zM140.3 250.3h1.45v1.45h-1.45zM156.8 231.5h1.45v1.45h-1.45zM130.5 226.7h1.45v1.45h-1.45zM155.8 210.5h1.45v1.45h-1.45zM159.2 203.6h1.45v1.45h-1.45zM181.6 183.7h1.45v1.45h-1.45zM160.0 268.5h1.45v1.45h-1.45zM213.6 161.8h1.45v1.45h-1.45zM189.1 219.6h1.45v1.45h-1.45zM170.6 185.0h1.45v1.45h-1.45zM146.5 221.5h1.45v1.45h-1.45zM158.6 242.7h1.45v1.45h-1.45zM126.4 245.8h1.45v1.45h-1.45zM170.8 237.3h1.45v1.45h-1.45zM111.2 251.2h1.45v1.45h-1.45zM147.0 268.8h1.45v1.45h-1.45zM137.3 237.8h1.45v1.45h-1.45zM146.7 211.3h1.45v1.45h-1.45zM138.5 219.3h1.45v1.45h-1.45zM157.2 230.8h1.45v1.45h-1.45zM126.2 232.7h1.45v1.45h-1.45zM154.7 226.8h1.45v1.45h-1.45zM129.0 249.6h1.45v1.45h-1.45zM208.5 154.7h1.45v1.45h-1.45zM130.7 268.7h1.45v1.45h-1.45zM212.8 157.8h1.45v1.45h-1.45zM152.2 206.2h1.45v1.45h-1.45zM125.9 268.8h1.45v1.45h-1.45zM110.9 256.5h1.45v1.45h-1.45zM147.6 235.8h1.45v1.45h-1.45zM110.7 251.2h1.45v1.45h-1.45zM158.0 214.2h1.45v1.45h-1.45zM138.7 217.4h1.45v1.45h-1.45zM128.0 227.6h1.45v1.45h-1.45zM123.4 233.8h1.45v1.45h-1.45zM138.7 220.6h1.45v1.45h-1.45zM145.6 231.2h1.45v1.45h-1.45zM172.4 223.1h1.45v1.45h-1.45zM162.9 198.2h1.45v1.45h-1.45zM215.9 171.6h1.45v1.45h-1.45zM223.4 139.3h1.45v1.45h-1.45zM132.4 223.5h1.45v1.45h-1.45zM142.0 229.4h1.45v1.45h-1.45zM200.6 156.4h1.45v1.45h-1.45zM159.7 211.7h1.45v1.45h-1.45zM133.7 222.0h1.45v1.45h-1.45zM160.3 213.0h1.45v1.45h-1.45zM158.7 215.5h1.45v1.45h-1.45zM133.5 251.8h1.45v1.45h-1.45zM143.3 213.4h1.45v1.45h-1.45zM218.4 169.9h1.45v1.45h-1.45zM214.6 145.4h1.45v1.45h-1.45zM175.9 206.1h1.45v1.45h-1.45zM132.0 247.6h1.45v1.45h-1.45zM152.5 216.9h1.45v1.45h-1.45zM117.8 244.1h1.45v1.45h-1.45zM127.2 228.8h1.45v1.45h-1.45zM186.9 177.9h1.45v1.45h-1.45zM132.5 244.1h1.45v1.45h-1.45zM123.1 267.9h1.45v1.45h-1.45zM197.6 195.6h1.45v1.45h-1.45zM216.0 148.9h1.45v1.45h-1.45zM111.1 254.1h1.45v1.45h-1.45zM111.2 256.3h1.45v1.45h-1.45zM142.5 254.2h1.45v1.45h-1.45zM120.9 248.0h1.45v1.45h-1.45zM129.8 236.5h1.45v1.45h-1.45zM196.9 194.7h1.45v1.45h-1.45zM132.4 236.3h1.45v1.45h-1.45zM112.2 252.4h1.45v1.45h-1.45zM191.9 167.8h1.45v1.45h-1.45zM126.6 237.2h1.45v1.45h-1.45zM197.4 197.1h1.45v1.45h-1.45zM110.8 250.1h1.45v1.45h-1.45zM161.9 253.5h1.45v1.45h-1.45zM168.3 189.5h1.45v1.45h-1.45zM195.9 174.2h1.45v1.45h-1.45zM141.4 248.2h1.45v1.45h-1.45zM137.6 268.9h1.45v1.45h-1.45zM111.3 255.7h1.45v1.45h-1.45zM161.1 265.6h1.45v1.45h-1.45zM191.5 177.7h1.45v1.45h-1.45zM186.6 174.3h1.45v1.45h-1.45zM185.8 172.1h1.45v1.45h-1.45zM197.7 162.0h1.45v1.45h-1.45zM170.2 233.5h1.45v1.45h-1.45zM128.9 232.5h1.45v1.45h-1.45zM122.5 255.1h1.45v1.45h-1.45zM176.2 210.1h1.45v1.45h-1.45zM124.6 247.3h1.45v1.45h-1.45zM228.4 150.3h1.45v1.45h-1.45zM117.2 242.7h1.45v1.45h-1.45zM170.3 193.7h1.45v1.45h-1.45zM161.9 196.7h1.45v1.45h-1.45zM110.8 251.7h1.45v1.45h-1.45zM156.5 242.9h1.45v1.45h-1.45zM171.7 214.3h1.45v1.45h-1.45zM126.0 245.2h1.45v1.45h-1.45zM154.1 214.2h1.45v1.45h-1.45zM211.2 160.1h1.45v1.45h-1.45zM160.5 196.2h1.45v1.45h-1.45zM169.8 232.9h1.45v1.45h-1.45zM190.7 180.8h1.45v1.45h-1.45zM147.0 215.6h1.45v1.45h-1.45zM111.1 251.2h1.45v1.45h-1.45zM152.0 261.5h1.45v1.45h-1.45zM137.1 233.8h1.45v1.45h-1.45zM226.1 147.6h1.45v1.45h-1.45zM122.7 253.9h1.45v1.45h-1.45zM134.8 226.7h1.45v1.45h-1.45zM126.2 253.8h1.45v1.45h-1.45zM191.0 217.3h1.45v1.45h-1.45zM163.6 225.9h1.45v1.45h-1.45zM125.7 241.8h1.45v1.45h-1.45zM216.4 150.6h1.45v1.45h-1.45zM185.0 190.9h1.45v1.45h-1.45zM163.5 193.0h1.45v1.45h-1.45zM238.0 128.5h1.45v1.45h-1.45zM176.2 190.1h1.45v1.45h-1.45zM148.3 257.7h1.45v1.45h-1.45zM151.8 215.4h1.45v1.45h-1.45zM180.9 191.0h1.45v1.45h-1.45zM189.3 171.4h1.45v1.45h-1.45zM141.7 236.6h1.45v1.45h-1.45zM212.8 169.4h1.45v1.45h-1.45zM190.3 174.3h1.45v1.45h-1.45zM165.5 252.9h1.45v1.45h-1.45zM125.6 229.2h1.45v1.45h-1.45zM184.5 204.1h1.45v1.45h-1.45zM214.5 153.6h1.45v1.45h-1.45zM116.8 251.0h1.45v1.45h-1.45zM199.2 182.1h1.45v1.45h-1.45zM189.0 195.2h1.45v1.45h-1.45zM167.0 234.5h1.45v1.45h-1.45zM159.7 201.3h1.45v1.45h-1.45zM161.9 197.5h1.45v1.45h-1.45zM203.1 160.5h1.45v1.45h-1.45zM161.1 225.2h1.45v1.45h-1.45zM150.9 207.5h1.45v1.45h-1.45zM171.3 203.9h1.45v1.45h-1.45zM119.3 250.2h1.45v1.45h-1.45zM120.7 238.3h1.45v1.45h-1.45zM193.5 190.0h1.45v1.45h-1.45zM154.0 239.5h1.45v1.45h-1.45zM128.7 238.8h1.45v1.45h-1.45zM200.4 199.4h1.45v1.45h-1.45zM200.8 156.7h1.45v1.45h-1.45zM230.8 146.8h1.45v1.45h-1.45zM170.1 203.4h1.45v1.45h-1.45zM158.4 219.1h1.45v1.45h-1.45zM111.3 251.2h1.45v1.45h-1.45zM127.9 261.1h1.45v1.45h-1.45zM147.0 249.8h1.45v1.45h-1.45zM141.3 260.2h1.45v1.45h-1.45zM233.9 127.2h1.45v1.45h-1.45zM192.3 176.7h1.45v1.45h-1.45zM138.6 261.7h1.45v1.45h-1.45zM129.5 233.4h1.45v1.45h-1.45zM234.3 125.3h1.45v1.45h-1.45zM137.3 235.4h1.45v1.45h-1.45zM178.7 183.8h1.45v1.45h-1.45zM235.1 133.8h1.45v1.45h-1.45zM143.0 215.6h1.45v1.45h-1.45zM182.2 208.5h1.45v1.45h-1.45zM120.7 241.0h1.45v1.45h-1.45zM207.5 155.1h1.45v1.45h-1.45zM172.9 247.3h1.45v1.45h-1.45zM184.1 187.2h1.45v1.45h-1.45zM116.4 249.7h1.45v1.45h-1.45zM111.6 248.2h1.45v1.45h-1.45zM214.3 160.6h1.45v1.45h-1.45zM172.2 206.6h1.45v1.45h-1.45zM169.9 201.2h1.45v1.45h-1.45zM135.8 230.2h1.45v1.45h-1.45zM165.3 241.2h1.45v1.45h-1.45zM134.8 224.5h1.45v1.45h-1.45zM200.1 168.4h1.45v1.45h-1.45zM155.4 245.8h1.45v1.45h-1.45zM115.8 248.3h1.45v1.45h-1.45zM111.0 249.5h1.45v1.45h-1.45zM179.4 203.6h1.45v1.45h-1.45zM196.6 198.0h1.45v1.45h-1.45zM167.8 204.1h1.45v1.45h-1.45zM220.1 141.2h1.45v1.45h-1.45zM208.0 171.0h1.45v1.45h-1.45zM135.2 220.5h1.45v1.45h-1.45zM123.8 234.5h1.45v1.45h-1.45zM187.3 221.6h1.45v1.45h-1.45zM118.3 254.1h1.45v1.45h-1.45zM177.2 177.9h1.45v1.45h-1.45zM117.8 245.7h1.45v1.45h-1.45zM184.0 175.8h1.45v1.45h-1.45zM113.5 248.1h1.45v1.45h-1.45zM125.9 236.0h1.45v1.45h-1.45zM125.3 230.0h1.45v1.45h-1.45zM150.6 209.0h1.45v1.45h-1.45zM136.5 231.0h1.45v1.45h-1.45zM122.1 234.3h1.45v1.45h-1.45zM170.3 222.9h1.45v1.45h-1.45zM150.6 206.2h1.45v1.45h-1.45zM132.0 228.5h1.45v1.45h-1.45zM125.2 231.2h1.45v1.45h-1.45zM128.8 244.6h1.45v1.45h-1.45zM130.4 227.4h1.45v1.45h-1.45zM165.0 211.8h1.45v1.45h-1.45zM128.9 226.9h1.45v1.45h-1.45zM135.7 231.2h1.45v1.45h-1.45zM154.7 211.8h1.45v1.45h-1.45zM120.4 237.0h1.45v1.45h-1.45zM130.4 230.2h1.45v1.45h-1.45zM154.7 205.9h1.45v1.45h-1.45zM128.0 241.2h1.45v1.45h-1.45zM171.4 222.0h1.45v1.45h-1.45zM135.0 226.9h1.45v1.45h-1.45zM138.2 225.1h1.45v1.45h-1.45zM126.0 250.9h1.45v1.45h-1.45zM149.7 207.8h1.45v1.45h-1.45zM156.9 203.3h1.45v1.45h-1.45zM130.5 228.8h1.45v1.45h-1.45zM122.5 232.6h1.45v1.45h-1.45zM129.7 227.5h1.45v1.45h-1.45zM152.3 213.7h1.45v1.45h-1.45zM146.0 228.7h1.45v1.45h-1.45zM153.8 203.2h1.45v1.45h-1.45zM158.6 204.4h1.45v1.45h-1.45zM140.3 240.2h1.45v1.45h-1.45zM141.8 217.6h1.45v1.45h-1.45zM148.8 218.2h1.45v1.45h-1.45zM113.8 244.0h1.45v1.45h-1.45zM122.1 241.2h1.45v1.45h-1.45zM148.9 224.3h1.45v1.45h-1.45zM143.9 227.8h1.45v1.45h-1.45zM136.9 222.3h1.45v1.45h-1.45zM156.1 204.8h1.45v1.45h-1.45zM124.5 232.8h1.45v1.45h-1.45zM154.1 210.3h1.45v1.45h-1.45zM129.6 232.7h1.45v1.45h-1.45zM149.8 207.8h1.45v1.45h-1.45zM133.6 231.5h1.45v1.45h-1.45zM114.1 244.6h1.45v1.45h-1.45zM114.8 244.6h1.45v1.45h-1.45zM143.7 222.9h1.45v1.45h-1.45zM155.2 203.8h1.45v1.45h-1.45zM150.9 208.2h1.45v1.45h-1.45zM120.8 249.2h1.45v1.45h-1.45zM129.2 233.8h1.45v1.45h-1.45zM161.5 217.5h1.45v1.45h-1.45zM154.3 203.4h1.45v1.45h-1.45zM126.3 239.6h1.45v1.45h-1.45zM120.6 237.7h1.45v1.45h-1.45zM156.5 211.5h1.45v1.45h-1.45zM157.9 209.2h1.45v1.45h-1.45zM138.8 219.2h1.45v1.45h-1.45zM149.3 222.7h1.45v1.45h-1.45zM123.5 242.8h1.45v1.45h-1.45zM139.4 218.1h1.45v1.45h-1.45zM124.2 238.1h1.45v1.45h-1.45zM152.9 204.1h1.45v1.45h-1.45zM142.9 216.2h1.45v1.45h-1.45zM131.7 223.0h1.45v1.45h-1.45zM133.5 227.5h1.45v1.45h-1.45zM146.3 217.9h1.45v1.45h-1.45zM152.1 223.2h1.45v1.45h-1.45zM142.0 232.0h1.45v1.45h-1.45zM151.8 213.3h1.45v1.45h-1.45zM122.5 231.8h1.45v1.45h-1.45zM133.0 228.5h1.45v1.45h-1.45zM134.4 240.4h1.45v1.45h-1.45zM164.1 209.8h1.45v1.45h-1.45zM116.3 244.3h1.45v1.45h-1.45zM129.6 225.8h1.45v1.45h-1.45zM140.5 227.7h1.45v1.45h-1.45zM120.9 237.8h1.45v1.45h-1.45zM120.2 250.9h1.45v1.45h-1.45zM154.9 202.4h1.45v1.45h-1.45zM128.8 250.7h1.45v1.45h-1.45zM115.6 241.9h1.45v1.45h-1.45zM126.2 253.7h1.45v1.45h-1.45zM120.2 248.1h1.45v1.45h-1.45zM134.3 228.7h1.45v1.45h-1.45zM143.8 215.0h1.45v1.45h-1.45zM161.0 213.7h1.45v1.45h-1.45zM133.8 230.9h1.45v1.45h-1.45zM132.5 230.1h1.45v1.45h-1.45zM148.0 223.4h1.45v1.45h-1.45zM158.1 215.2h1.45v1.45h-1.45zM154.5 214.2h1.45v1.45h-1.45zM137.4 221.1h1.45v1.45h-1.45zM137.4 223.8h1.45v1.45h-1.45zM147.9 211.9h1.45v1.45h-1.45zM136.7 228.0h1.45v1.45h-1.45zM141.4 236.4h1.45v1.45h-1.45zM151.8 213.6h1.45v1.45h-1.45zM121.8 234.7h1.45v1.45h-1.45zM153.5 203.2h1.45v1.45h-1.45zM133.1 233.0h1.45v1.45h-1.45zM146.0 209.7h1.45v1.45h-1.45zM151.2 206.3h1.45v1.45h-1.45zM155.4 202.2h1.45v1.45h-1.45zM135.3 221.4h1.45v1.45h-1.45zM125.7 230.9h1.45v1.45h-1.45zM157.7 219.8h1.45v1.45h-1.45zM138.6 216.5h1.45v1.45h-1.45z"/><path fill="#6cb43a" fill-opacity="0.9" d="M111.5 269.1h1.5v1.5h-1.5zM112.1 269.1h1.5v1.5h-1.5zM116.0 269.1h1.5v1.5h-1.5zM116.1 269.1h1.5v1.5h-1.5zM111.6 269.1h1.5v1.5h-1.5zM147.0 269.1h1.5v1.5h-1.5zM116.7 269.1h1.5v1.5h-1.5zM116.9 269.1h1.5v1.5h-1.5zM122.5 269.1h1.5v1.5h-1.5zM122.0 269.1h1.5v1.5h-1.5zM123.9 269.1h1.5v1.5h-1.5zM123.0 269.1h1.5v1.5h-1.5zM121.0 269.1h1.5v1.5h-1.5zM111.2 269.1h1.5v1.5h-1.5zM120.5 269.1h1.5v1.5h-1.5zM111.1 269.1h1.5v1.5h-1.5zM129.4 269.1h1.5v1.5h-1.5zM113.2 269.1h1.5v1.5h-1.5zM140.1 269.1h1.5v1.5h-1.5zM113.4 269.1h1.5v1.5h-1.5zM131.9 269.1h1.5v1.5h-1.5zM145.3 269.1h1.5v1.5h-1.5zM125.1 269.1h1.5v1.5h-1.5zM113.7 269.1h1.5v1.5h-1.5zM124.1 269.1h1.5v1.5h-1.5z"/><path d="M91.7 274.4v-2M91.7 88.5v2M66.3 249.6h2M256.7 249.6h-2M117.1 274.4v-2M117.1 88.5v2M66.3 224.8h2M256.7 224.8h-2M142.5 274.4v-2M142.5 88.5v2M66.3 200.0h2M256.7 200.0h-2M167.9 274.4v-2M167.9 88.5v2M66.3 175.3h2M256.7 175.3h-2M193.2 274.4v-2M193.2 88.5v2M66.3 150.5h2M256.7 150.5h-2M218.6 274.4v-2M218.6 88.5v2M66.3 125.7h2M256.7 125.7h-2M244.0 274.4v-2M244.0 88.5v2M66.3 100.9h2M256.7 100.9h-2" stroke="#aaa" stroke-width="0.8" fill="none"/><g style="font-family:'Liberation Sans',sans-serif" font-size="14.5" fill="#000"><text x="63.9" y="278.6" text-anchor="end">2</text><text x="66.3" y="287.9" text-anchor="middle">2</text><text x="63.9" y="254.1" text-anchor="end">4</text><text x="91.7" y="287.9" text-anchor="middle">4</text><text x="63.9" y="229.6" text-anchor="end">6</text><text x="117.1" y="287.9" text-anchor="middle">6</text><text x="63.9" y="205.1" text-anchor="end">8</text><text x="142.5" y="287.9" text-anchor="middle">8</text><text x="63.9" y="180.6" text-anchor="end">10</text><text x="167.9" y="287.9" text-anchor="middle">10</text><text x="63.9" y="156.0" text-anchor="end">12</text><text x="193.2" y="287.9" text-anchor="middle">12</text><text x="63.9" y="131.5" text-anchor="end">14</text><text x="218.6" y="287.9" text-anchor="middle">14</text><text x="63.9" y="107.0" text-anchor="end">16</text><text x="244.0" y="287.9" text-anchor="middle">16</text><text x="154.8" y="307.4" text-anchor="middle" font-size="15">Control(normalized)</text><text transform="translate(39.2 190.9) rotate(-90)" text-anchor="middle" font-size="15">AML(normalized)</text><text x="81.4" y="119.7" font-size="14.8">circRNF220</text></g><polygon points="166.30,110.00 167.21,113.15 170.48,113.04 167.77,114.88 168.89,117.96 166.30,115.95 163.71,117.96 164.83,114.88 162.12,113.04 165.39,113.15" fill="#e8706a"/><g stroke="#111" fill="none"><line x1="351.8" y1="90.6" x2="351.8" y2="274.9" stroke-width="2"/><line x1="347.3" y1="273.9" x2="610.2" y2="273.9" stroke-width="2"/><path d="M347.3 273.9H352M348.6 260.1H352M348.6 252.1H352M348.6 246.4H352M348.6 242.0H352M348.6 238.3H352M348.6 235.3H352M348.6 232.6H352M348.6 230.3H352M347.3 228.2H352M348.6 214.4H352M348.6 206.4H352M348.6 200.7H352M348.6 196.3H352M348.6 192.6H352M348.6 189.6H352M348.6 186.9H352M348.6 184.6H352M347.3 182.5H352M348.6 168.7H352M348.6 160.7H352M348.6 155.0H352M348.6 150.6H352M348.6 146.9H352M348.6 143.9H352M348.6 141.2H352M348.6 138.9H352M347.3 136.8H352M348.6 123.0H352M348.6 115.0H352M348.6 109.3H352M348.6 104.9H352M348.6 101.2H352M348.6 98.2H352M348.6 95.5H352M348.6 93.2H352M347.3 91.1H352" stroke-width="1.6"/><path d="M416.1 274v5.6M545 274v5.6" stroke-width="2"/><line x1="410.6" y1="91.5" x2="549.1" y2="91.5" stroke-width="1.5"/></g><g style="font-family:'Liberation Sans',sans-serif" font-size="14" fill="#000"><text x="344.9" y="277.9" text-anchor="end">0.1</text><text x="344.9" y="232.2" text-anchor="end">1</text><text x="344.9" y="186.5" text-anchor="end">10</text><text x="344.9" y="140.8" text-anchor="end">100</text><text x="344.9" y="95.1" text-anchor="end">1000</text><text x="418.2" y="298" text-anchor="middle" font-size="14.8">Healthy Control</text><text x="544.2" y="298" text-anchor="middle" font-size="14.8">AML-primary</text><text transform="translate(302.5 182.1) rotate(-90)" text-anchor="middle" font-size="15">Relative expression of circRNF220</text></g><path fill="#e8717a" d="M399.5 224.7L403.2 228.4L399.5 232.1L395.8 228.4zM416.2 215.7L419.9 219.4L416.2 223.1L412.5 219.4zM410.9 231.4L414.6 235.1L410.9 238.8L407.2 235.1zM421.7 228.6L425.4 232.3L421.7 236.0L418.0 232.3zM432.7 224.3L436.4 228.0L432.7 231.7L429.0 228.0zM550.3 131.6L554.0 135.3L550.3 139.0L546.6 135.3zM539.5 135.2L543.2 138.9L539.5 142.6L535.8 138.9zM506.8 137.6L510.5 141.3L506.8 145.0L503.1 141.3zM582.7 137.1L586.4 140.8L582.7 144.5L579.0 140.8zM514.3 139.9L518.0 143.6L514.3 147.3L510.6 143.6zM575.3 138.4L579.0 142.1L575.3 145.8L571.6 142.1zM568.0 141.0L571.7 144.7L568.0 148.4L564.3 144.7zM522.2 143.9L525.9 147.6L522.2 151.3L518.5 147.6zM529.4 145.3L533.1 149.0L529.4 152.7L525.7 149.0zM559.8 145.3L563.5 149.0L559.8 152.7L556.1 149.0zM537.3 146.6L541.0 150.3L537.3 154.0L533.6 150.3zM545.2 146.9L548.9 150.6L545.2 154.3L541.5 150.6zM552.2 146.3L555.9 150.0L552.2 153.7L548.5 150.0zM539.2 150.5L542.9 154.2L539.2 157.9L535.5 154.2zM550.3 150.1L554.0 153.8L550.3 157.5L546.6 153.8zM512.0 184.8L515.7 188.5L512.0 192.2L508.3 188.5zM522.8 185.7L526.5 189.4L522.8 193.1L519.1 189.4zM533.5 189.0L537.2 192.7L533.5 196.4L529.8 192.7zM544.8 193.8L548.5 197.5L544.8 201.2L541.1 197.5zM555.9 187.2L559.6 190.9L555.9 194.6L552.2 190.9zM566.7 184.8L570.4 188.5L566.7 192.2L563.0 188.5zM577.4 183.6L581.1 187.3L577.4 191.0L573.7 187.3zM507.5 196.8L511.2 200.5L507.5 204.2L503.8 200.5zM518.3 199.2L522.0 202.9L518.3 206.6L514.6 202.9zM529.0 202.2L532.7 205.9L529.0 209.6L525.3 205.9zM539.4 206.9L543.1 210.6L539.4 214.3L535.7 210.6zM550.2 204.5L553.9 208.2L550.2 211.9L546.5 208.2zM560.4 199.2L564.1 202.9L560.4 206.6L556.7 202.9zM571.7 196.8L575.4 200.5L571.7 204.2L568.0 200.5zM582.5 196.1L586.2 199.8L582.5 203.5L578.8 199.8zM539.4 214.0L543.1 217.7L539.4 221.4L535.7 217.7zM550.6 221.2L554.3 224.9L550.6 228.6L546.9 224.9zM539.4 239.1L543.1 242.8L539.4 246.5L535.7 242.8zM550.6 236.8L554.3 240.5L550.6 244.2L546.9 240.5zM508.0 150.8L511.7 154.5L508.0 158.2L504.3 154.5zM512.6 151.9L516.3 155.6L512.6 159.3L508.9 155.6zM517.2 152.9L521.0 156.6L517.2 160.3L513.5 156.6zM521.9 154.0L525.6 157.7L521.9 161.4L518.2 157.7zM526.5 155.1L530.2 158.8L526.5 162.4L522.8 158.8zM531.1 156.1L534.8 159.8L531.1 163.5L527.4 159.8zM535.8 157.2L539.5 160.9L535.8 164.6L532.0 160.9zM540.4 158.2L544.1 161.9L540.4 165.6L536.7 161.9zM545.0 159.3L548.7 163.0L545.0 166.7L541.3 163.0zM549.6 158.2L553.3 161.9L549.6 165.6L545.9 161.9zM554.2 157.2L558.0 160.9L554.2 164.6L550.5 160.9zM558.9 156.1L562.6 159.8L558.9 163.5L555.2 159.8zM563.5 155.1L567.2 158.8L563.5 162.4L559.8 158.8zM568.1 154.0L571.8 157.7L568.1 161.4L564.4 157.7zM572.8 152.9L576.5 156.6L572.8 160.3L569.0 156.6zM577.4 151.9L581.1 155.6L577.4 159.3L573.7 155.6zM582.0 150.8L585.7 154.5L582.0 158.2L578.3 154.5zM506.0 160.1L509.7 163.8L506.0 167.5L502.3 163.8zM510.6 161.1L514.3 164.8L510.6 168.5L506.9 164.8zM515.2 162.1L518.9 165.8L515.2 169.5L511.5 165.8zM519.8 163.2L523.5 166.9L519.8 170.6L516.1 166.9zM524.4 164.2L528.1 167.9L524.4 171.6L520.7 167.9zM528.9 165.2L532.6 168.9L528.9 172.6L525.2 168.9zM533.5 166.2L537.2 169.9L533.5 173.6L529.8 169.9zM538.1 167.3L541.8 171.0L538.1 174.7L534.4 171.0zM542.7 168.3L546.4 172.0L542.7 175.7L539.0 172.0zM547.3 168.3L551.0 172.0L547.3 175.7L543.6 172.0zM551.9 167.3L555.6 171.0L551.9 174.7L548.2 171.0zM556.5 166.2L560.2 169.9L556.5 173.6L552.8 169.9zM561.1 165.2L564.8 168.9L561.1 172.6L557.4 168.9zM565.6 164.2L569.3 167.9L565.6 171.6L561.9 167.9zM570.2 163.2L573.9 166.9L570.2 170.6L566.5 166.9zM574.8 162.1L578.5 165.8L574.8 169.5L571.1 165.8zM579.4 161.1L583.1 164.8L579.4 168.5L575.7 164.8zM584.0 160.1L587.7 163.8L584.0 167.5L580.3 163.8zM507.0 172.6L510.7 176.3L507.0 180.0L503.3 176.3zM511.8 173.1L515.5 176.8L511.8 180.5L508.1 176.8zM516.5 173.5L520.2 177.2L516.5 180.9L512.8 177.2zM521.2 174.0L525.0 177.7L521.2 181.4L517.5 177.7zM526.0 174.5L529.7 178.2L526.0 181.8L522.3 178.2zM530.8 174.9L534.5 178.6L530.8 182.3L527.0 178.6zM535.5 175.4L539.2 179.1L535.5 182.8L531.8 179.1zM540.2 175.8L544.0 179.5L540.2 183.2L536.5 179.5zM545.0 176.3L548.7 180.0L545.0 183.7L541.3 180.0zM549.8 175.8L553.5 179.5L549.8 183.2L546.0 179.5zM554.5 175.4L558.2 179.1L554.5 182.8L550.8 179.1zM559.2 174.9L563.0 178.6L559.2 182.3L555.5 178.6zM564.0 174.5L567.7 178.2L564.0 181.8L560.3 178.2zM568.8 174.0L572.5 177.7L568.8 181.4L565.0 177.7zM573.5 173.5L577.2 177.2L573.5 180.9L569.8 177.2zM578.2 173.1L582.0 176.8L578.2 180.5L574.5 176.8zM583.0 172.6L586.7 176.3L583.0 180.0L579.3 176.3zM536.0 170.3L539.7 174.0L536.0 177.7L532.3 174.0zM540.0 172.3L543.7 176.0L540.0 179.7L536.3 176.0zM550.0 170.3L553.7 174.0L550.0 177.7L546.3 174.0zM554.0 172.3L557.7 176.0L554.0 179.7L550.3 176.0zM545.0 174.3L548.7 178.0L545.0 181.7L541.3 178.0zM516.0 178.3L519.7 182.0L516.0 185.7L512.3 182.0zM523.2 179.1L527.0 182.8L523.2 186.4L519.5 182.8zM530.5 179.8L534.2 183.5L530.5 187.2L526.8 183.5zM537.8 180.6L541.5 184.2L537.8 187.9L534.0 184.2zM545.0 181.3L548.7 185.0L545.0 188.7L541.3 185.0zM552.2 180.6L556.0 184.2L552.2 187.9L548.5 184.2zM559.5 179.8L563.2 183.5L559.5 187.2L555.8 183.5zM566.8 179.1L570.5 182.8L566.8 186.4L563.0 182.8zM574.0 178.3L577.7 182.0L574.0 185.7L570.3 182.0z"/><g stroke="#111" fill="none" stroke-width="2.4"><path d="M373.4 228.4H458.8" stroke-width="1.9"/><path d="M395.2 223.4H437.6M395.2 233.5H437.6M416.1 223.4V233.5" stroke-width="2.7"/><path d="M501.8 169.7H588.1" stroke-width="1.9"/><path d="M524 160.2H566.3M524 184.5H566.3M545 160.2V184.5" stroke-width="2.7"/></g><rect x="242" y="355.1" width="17.8" height="9" rx="2" fill="#a4a4a8"/><rect x="242" y="371.6" width="17.8" height="9.4" rx="2" fill="#ee9598"/><g style="font-family:'Liberation Sans',sans-serif" font-size="16.9" fill="#000"><text x="264.4" y="364.2">Mock</text><text x="264.4" y="382.9">RNase R</text></g><g fill="#a4a4a8"><rect x="247" y="428.1" width="28.8" height="96.5" rx="1.3"/><rect x="354.8" y="428.2" width="29.2" height="96.4" rx="1.3"/></g><g fill="#ee9598"><rect x="287.1" y="449.8" width="29.4" height="74.8" rx="1.3"/><rect x="395.6" y="512" width="29.4" height="12.6"/></g><path d="M261.3 429V414M254.3 414H268M369.4 429V394.2M363 394.2H376" stroke="#a4a4a8" stroke-width="2" fill="none"/><path d="M301.7 450.4V441M294.6 441H308.8M410 512.5V511M403.3 511H416.8" stroke="#ee9598" stroke-width="2" fill="none"/><g stroke="#111" fill="none" stroke-width="1.8"><path d="M227.4 381V525.4M226.5 524.6H444.3"/><path d="M223.6 381.1H227.4M223.6 428.9H227.4M223.6 476.8H227.4M223.6 524.6H227.4M281.3 524.6V529M390.1 524.6V529"/></g><g style="font-family:'Liberation Sans',sans-serif" font-size="16.6" fill="#000"><text x="221.8" y="386.9" text-anchor="end">1.5</text><text x="221.8" y="434.8" text-anchor="end">1.0</text><text x="221.8" y="482.6" text-anchor="end">0.5</text><text x="221.8" y="530.5" text-anchor="end">0.0</text></g><g style="font-family:'Liberation Sans',sans-serif" font-size="17" fill="#000"><text x="280.2" y="545.9" text-anchor="middle">circRNF220</text><text x="388" y="545.7" text-anchor="middle">RNF220</text><text transform="translate(191.8 447.4) rotate(-90)" text-anchor="middle">Relative expression</text></g><path stroke="#111" stroke-width="1.35" fill="none" d="M465.60 85.10L465.60 82.20M465.60 85.10L468.36 84.20M465.60 85.10L467.30 87.45M465.60 85.10L463.90 87.45M465.60 85.10L462.84 84.20M471.50 85.10L471.50 82.20M471.50 85.10L474.26 84.20M471.50 85.10L473.20 87.45M471.50 85.10L469.80 87.45M471.50 85.10L468.74 84.20M477.40 85.10L477.40 82.20M477.40 85.10L480.16 84.20M477.40 85.10L479.10 87.45M477.40 85.10L475.70 87.45M477.40 85.10L474.64 84.20"/><path stroke="#111" stroke-width="1.6" fill="none" d="M406.40 498.90L406.40 495.50M406.40 498.90L409.63 497.85M406.40 498.90L408.40 501.65M406.40 498.90L404.40 501.65M406.40 498.90L403.17 497.85M414.40 498.90L414.40 495.50M414.40 498.90L417.63 497.85M414.40 498.90L416.40 501.65M414.40 498.90L412.40 501.65M414.40 498.90L411.17 497.85"/></svg>
</body></html>
